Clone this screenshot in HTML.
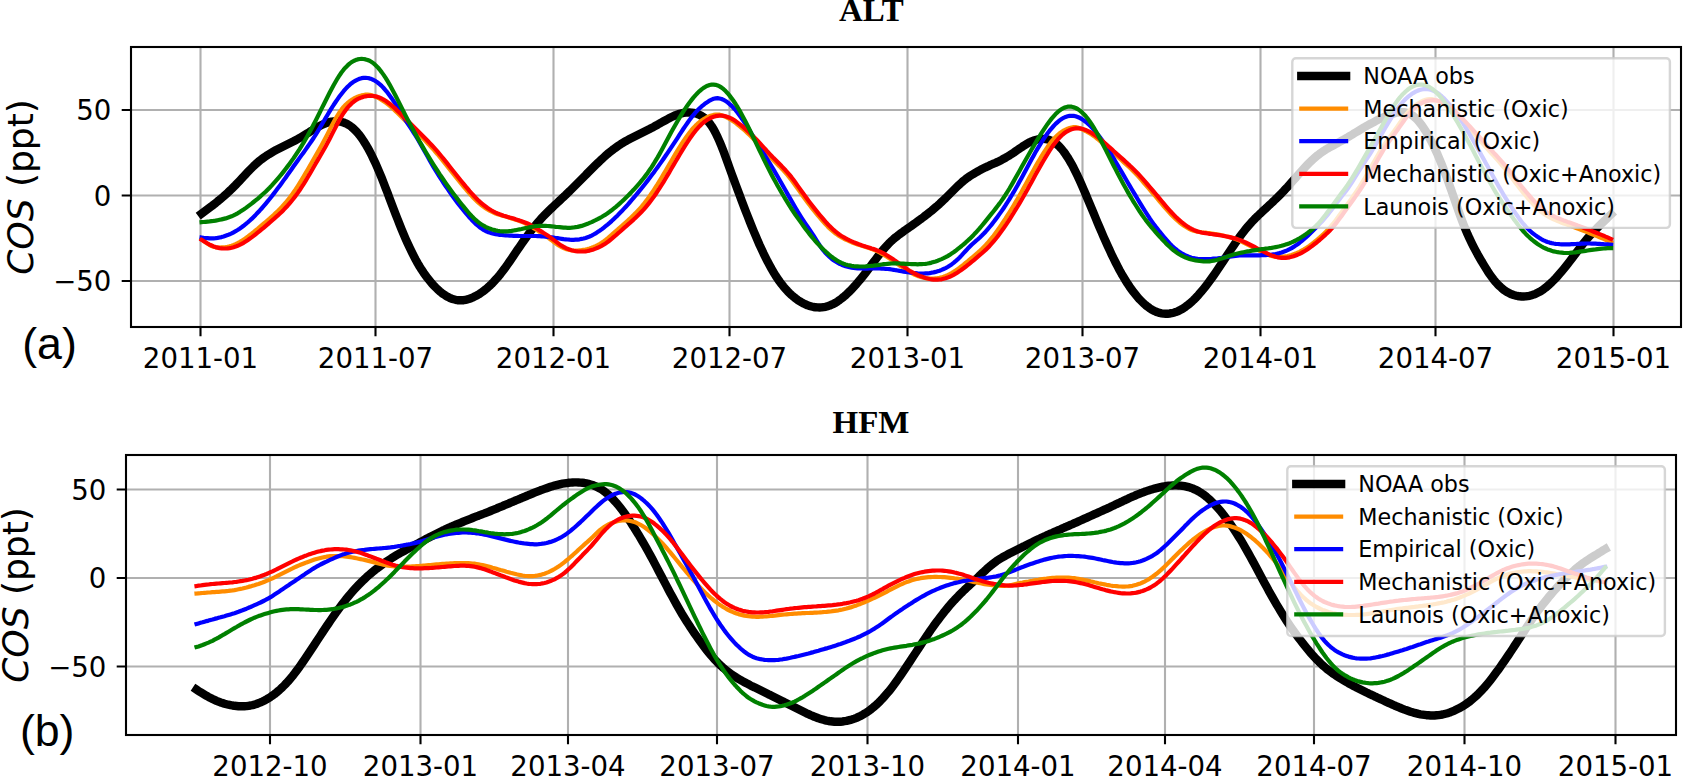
<!DOCTYPE html>
<html lang="en"><head><meta charset="utf-8"><title>COS seasonal cycle at ALT and HFM</title>
<style>
html,body{margin:0;padding:0;background:#fff;}
body{width:1683px;height:776px;overflow:hidden;}
svg{display:block;}
.tk{font-family:"DejaVu Sans","Liberation Sans",sans-serif;font-size:27.6px;fill:#000;}
.lg{font-family:"DejaVu Sans","Liberation Sans",sans-serif;font-size:22.25px;fill:#000;}
.yl{font-family:"DejaVu Sans","Liberation Sans",sans-serif;font-size:36px;fill:#000;}
.it{font-style:italic;}
.tt{font-family:"Liberation Serif",serif;font-weight:bold;font-size:32px;fill:#000;}
.pl{font-family:"Liberation Sans",sans-serif;font-size:44.7px;fill:#000;}
</style></head><body>
<svg width="1683" height="776" viewBox="0 0 1683 776">
<rect width="1683" height="776" fill="#fff"/>
<clipPath id="c1"><rect x="131" y="47" width="1550" height="280"/></clipPath>
<path d="M200.5 47 V327 M375.5 47 V327 M553.5 47 V327 M729.5 47 V327 M907.5 47 V327 M1082.5 47 V327 M1260.5 47 V327 M1435.5 47 V327 M1613.5 47 V327 M131 110.0 H1681 M131 195.5 H1681 M131 281.0 H1681" stroke="#b0b0b0" stroke-width="2.10" fill="none"/>
<g clip-path="url(#c1)" fill="none" stroke-linejoin="round" stroke-linecap="square">
<path d="M201.6 213.7 L203.6 212.2 L205.6 210.7 L207.6 209.2 L209.6 207.7 L211.6 206.2 L213.6 204.6 L215.6 203.1 L217.6 201.4 L219.6 199.8 L221.6 198.1 L223.6 196.4 L225.6 194.6 L227.6 192.8 L229.6 190.9 L231.6 189.0 L233.6 187.0 L235.6 185.0 L237.6 182.9 L239.6 180.8 L241.6 178.7 L243.6 176.5 L245.6 174.3 L247.6 172.2 L249.6 170.1 L251.6 168.1 L253.6 166.1 L255.6 164.2 L257.6 162.5 L259.6 160.8 L261.6 159.2 L263.6 157.8 L265.6 156.4 L267.6 155.0 L269.6 153.8 L271.6 152.6 L273.6 151.4 L275.6 150.3 L277.6 149.3 L279.6 148.3 L281.6 147.3 L283.6 146.3 L285.6 145.3 L287.6 144.3 L289.6 143.3 L291.6 142.3 L293.6 141.3 L295.6 140.2 L297.6 139.1 L299.6 138.0 L301.6 136.8 L303.6 135.6 L305.6 134.4 L307.6 133.2 L309.6 131.9 L311.6 130.7 L313.6 129.4 L315.6 128.3 L317.6 127.1 L319.6 126.0 L321.6 125.0 L323.6 124.1 L325.6 123.3 L327.6 122.6 L329.6 122.1 L331.6 121.6 L333.6 121.4 L335.6 121.2 L337.6 121.3 L339.6 121.5 L341.6 121.9 L343.6 122.5 L345.6 123.3 L347.6 124.3 L349.6 125.5 L351.6 127.0 L353.6 128.7 L355.6 130.7 L357.6 132.9 L359.6 135.3 L361.6 138.0 L363.6 141.0 L365.6 144.2 L367.6 147.6 L369.6 151.3 L371.6 155.2 L373.6 159.3 L375.6 163.6 L377.6 168.1 L379.6 172.8 L381.6 177.7 L383.6 182.7 L385.6 187.9 L387.6 193.1 L389.6 198.4 L391.6 203.7 L393.6 208.9 L395.6 214.2 L397.6 219.3 L399.6 224.4 L401.6 229.3 L403.6 234.1 L405.6 238.8 L407.6 243.3 L409.6 247.6 L411.6 251.7 L413.6 255.7 L415.6 259.5 L417.6 263.1 L419.6 266.5 L421.6 269.7 L423.6 272.7 L425.6 275.5 L427.6 278.2 L429.6 280.7 L431.6 283.1 L433.6 285.3 L435.6 287.4 L437.6 289.4 L439.6 291.2 L441.6 292.8 L443.6 294.3 L445.6 295.6 L447.6 296.8 L449.6 297.8 L451.6 298.7 L453.6 299.3 L455.6 299.8 L457.6 300.2 L459.6 300.3 L461.6 300.3 L463.6 300.2 L465.6 299.8 L467.6 299.4 L469.6 298.7 L471.6 298.0 L473.6 297.1 L475.6 296.1 L477.6 295.0 L479.6 293.8 L481.6 292.4 L483.6 291.0 L485.6 289.4 L487.6 287.7 L489.6 285.9 L491.6 284.0 L493.6 281.9 L495.6 279.7 L497.6 277.5 L499.6 275.1 L501.6 272.5 L503.6 269.9 L505.6 267.2 L507.6 264.4 L509.6 261.5 L511.6 258.6 L513.6 255.6 L515.6 252.7 L517.6 249.7 L519.6 246.8 L521.6 243.9 L523.6 241.0 L525.6 238.2 L527.6 235.5 L529.6 232.8 L531.6 230.1 L533.6 227.6 L535.6 225.1 L537.6 222.7 L539.6 220.4 L541.6 218.2 L543.6 216.0 L545.6 214.0 L547.6 212.0 L549.6 210.0 L551.6 208.1 L553.6 206.2 L555.6 204.3 L557.6 202.5 L559.6 200.6 L561.6 198.7 L563.6 196.9 L565.6 195.0 L567.6 193.0 L569.6 191.1 L571.6 189.1 L573.6 187.1 L575.6 185.1 L577.6 183.1 L579.6 181.1 L581.6 179.1 L583.6 177.1 L585.6 175.1 L587.6 173.0 L589.6 171.0 L591.6 169.0 L593.6 167.0 L595.6 165.0 L597.6 163.1 L599.6 161.2 L601.6 159.3 L603.6 157.5 L605.6 155.7 L607.6 153.9 L609.6 152.3 L611.6 150.7 L613.6 149.1 L615.6 147.7 L617.6 146.3 L619.6 144.9 L621.6 143.6 L623.6 142.4 L625.6 141.2 L627.6 140.1 L629.6 139.0 L631.6 138.0 L633.6 137.0 L635.6 136.0 L637.6 135.0 L639.6 134.0 L641.6 133.0 L643.6 132.0 L645.6 131.0 L647.6 130.0 L649.6 129.0 L651.6 127.9 L653.6 126.9 L655.6 125.8 L657.6 124.7 L659.6 123.5 L661.6 122.4 L663.6 121.3 L665.6 120.2 L667.6 119.1 L669.6 118.0 L671.6 117.0 L673.6 116.1 L675.6 115.2 L677.6 114.5 L679.6 113.8 L681.6 113.3 L683.6 112.9 L685.6 112.6 L687.6 112.5 L689.6 112.5 L691.6 112.6 L693.6 112.9 L695.6 113.4 L697.6 114.1 L699.6 114.9 L701.6 116.0 L703.6 117.3 L705.6 119.0 L707.6 121.0 L709.6 123.3 L711.6 126.1 L713.6 129.3 L715.6 133.0 L717.6 137.1 L719.6 141.6 L721.6 146.4 L723.6 151.6 L725.6 157.0 L727.6 162.5 L729.6 168.1 L731.6 173.6 L733.6 179.0 L735.6 184.4 L737.6 189.8 L739.6 195.1 L741.6 200.4 L743.6 205.7 L745.6 210.9 L747.6 216.0 L749.6 221.1 L751.6 226.1 L753.6 231.0 L755.6 235.7 L757.6 240.4 L759.6 245.0 L761.6 249.3 L763.6 253.6 L765.6 257.6 L767.6 261.6 L769.6 265.3 L771.6 268.9 L773.6 272.3 L775.6 275.6 L777.6 278.6 L779.6 281.5 L781.6 284.2 L783.6 286.7 L785.6 289.0 L787.6 291.2 L789.6 293.2 L791.6 295.1 L793.6 296.8 L795.6 298.4 L797.6 299.9 L799.6 301.2 L801.6 302.4 L803.6 303.5 L805.6 304.4 L807.6 305.3 L809.6 305.9 L811.6 306.5 L813.6 307.0 L815.6 307.3 L817.6 307.4 L819.6 307.5 L821.6 307.4 L823.6 307.1 L825.6 306.8 L827.6 306.2 L829.6 305.6 L831.6 304.7 L833.6 303.8 L835.6 302.7 L837.6 301.4 L839.6 300.0 L841.6 298.5 L843.6 296.9 L845.6 295.2 L847.6 293.3 L849.6 291.4 L851.6 289.3 L853.6 287.2 L855.6 285.0 L857.6 282.6 L859.6 280.3 L861.6 277.8 L863.6 275.3 L865.6 272.8 L867.6 270.2 L869.6 267.5 L871.6 264.8 L873.6 262.1 L875.6 259.5 L877.6 256.8 L879.6 254.2 L881.6 251.7 L883.6 249.3 L885.6 247.0 L887.6 244.8 L889.6 242.7 L891.6 240.8 L893.6 239.0 L895.6 237.3 L897.6 235.8 L899.6 234.2 L901.6 232.8 L903.6 231.3 L905.6 229.9 L907.6 228.5 L909.6 227.1 L911.6 225.7 L913.6 224.3 L915.6 222.9 L917.6 221.4 L919.6 219.9 L921.6 218.5 L923.6 217.0 L925.6 215.4 L927.6 213.9 L929.6 212.3 L931.6 210.7 L933.6 209.0 L935.6 207.3 L937.6 205.6 L939.6 203.8 L941.6 201.9 L943.6 200.0 L945.6 198.1 L947.6 196.1 L949.6 194.1 L951.6 192.1 L953.6 190.1 L955.6 188.1 L957.6 186.1 L959.6 184.3 L961.6 182.5 L963.6 180.8 L965.6 179.2 L967.6 177.7 L969.6 176.3 L971.6 175.0 L973.6 173.8 L975.6 172.6 L977.6 171.5 L979.6 170.4 L981.6 169.3 L983.6 168.3 L985.6 167.3 L987.6 166.4 L989.6 165.4 L991.6 164.5 L993.6 163.6 L995.6 162.8 L997.6 161.9 L999.6 160.9 L1001.6 159.9 L1003.6 158.8 L1005.6 157.7 L1007.6 156.5 L1009.6 155.3 L1011.6 154.0 L1013.6 152.7 L1015.6 151.3 L1017.6 149.9 L1019.6 148.5 L1021.6 147.2 L1023.6 145.8 L1025.6 144.6 L1027.6 143.4 L1029.6 142.3 L1031.6 141.4 L1033.6 140.6 L1035.6 140.0 L1037.6 139.4 L1039.6 139.1 L1041.6 138.9 L1043.6 138.9 L1045.6 139.1 L1047.6 139.4 L1049.6 140.0 L1051.6 140.9 L1053.6 141.9 L1055.6 143.3 L1057.6 144.9 L1059.6 146.8 L1061.6 149.0 L1063.6 151.5 L1065.6 154.3 L1067.6 157.3 L1069.6 160.6 L1071.6 164.1 L1073.6 167.8 L1075.6 171.8 L1077.6 175.9 L1079.6 180.3 L1081.6 184.7 L1083.6 189.3 L1085.6 194.0 L1087.6 198.8 L1089.6 203.6 L1091.6 208.4 L1093.6 213.2 L1095.6 218.0 L1097.6 222.8 L1099.6 227.5 L1101.6 232.2 L1103.6 236.8 L1105.6 241.3 L1107.6 245.8 L1109.6 250.1 L1111.6 254.4 L1113.6 258.5 L1115.6 262.5 L1117.6 266.4 L1119.6 270.2 L1121.6 273.8 L1123.6 277.2 L1125.6 280.5 L1127.6 283.7 L1129.6 286.7 L1131.6 289.5 L1133.6 292.2 L1135.6 294.7 L1137.6 297.1 L1139.6 299.4 L1141.6 301.4 L1143.6 303.4 L1145.6 305.1 L1147.6 306.7 L1149.6 308.2 L1151.6 309.5 L1153.6 310.6 L1155.6 311.5 L1157.6 312.3 L1159.6 312.9 L1161.6 313.3 L1163.6 313.6 L1165.6 313.7 L1167.6 313.7 L1169.6 313.5 L1171.6 313.2 L1173.6 312.7 L1175.6 312.1 L1177.6 311.3 L1179.6 310.4 L1181.6 309.3 L1183.6 308.1 L1185.6 306.7 L1187.6 305.2 L1189.6 303.6 L1191.6 301.8 L1193.6 300.0 L1195.6 298.0 L1197.6 295.9 L1199.6 293.6 L1201.6 291.3 L1203.6 288.9 L1205.6 286.4 L1207.6 283.8 L1209.6 281.1 L1211.6 278.3 L1213.6 275.5 L1215.6 272.6 L1217.6 269.7 L1219.6 266.7 L1221.6 263.7 L1223.6 260.6 L1225.6 257.6 L1227.6 254.5 L1229.6 251.5 L1231.6 248.5 L1233.6 245.6 L1235.6 242.7 L1237.6 239.8 L1239.6 237.0 L1241.6 234.3 L1243.6 231.7 L1245.6 229.2 L1247.6 226.8 L1249.6 224.5 L1251.6 222.2 L1253.6 220.1 L1255.6 218.0 L1257.6 216.1 L1259.6 214.1 L1261.6 212.3 L1263.6 210.4 L1265.6 208.6 L1267.6 206.7 L1269.6 204.8 L1271.6 203.0 L1273.6 201.1 L1275.6 199.1 L1277.6 197.2 L1279.6 195.2 L1281.6 193.2 L1283.6 191.1 L1285.6 188.9 L1287.6 186.8 L1289.6 184.6 L1291.6 182.3 L1293.6 180.0 L1295.6 177.8 L1297.6 175.5 L1299.6 173.2 L1301.6 171.0 L1303.6 168.8 L1305.6 166.6 L1307.6 164.5 L1309.6 162.5 L1311.6 160.6 L1313.6 158.7 L1315.6 157.0 L1317.6 155.3 L1319.6 153.8 L1321.6 152.4 L1323.6 151.0 L1325.6 149.7 L1327.6 148.5 L1329.6 147.4 L1331.6 146.3 L1333.6 145.2 L1335.6 144.1 L1337.6 143.0 L1339.6 141.9 L1341.6 140.8 L1343.6 139.7 L1345.6 138.5 L1347.6 137.4 L1349.6 136.2 L1351.6 135.0 L1353.6 133.7 L1355.6 132.5 L1357.6 131.3 L1359.6 130.1 L1361.6 128.9 L1363.6 127.7 L1365.6 126.5 L1367.6 125.4 L1369.6 124.3 L1371.6 123.2 L1373.6 122.2 L1375.6 121.1 L1377.6 120.1 L1379.6 119.1 L1381.6 118.2 L1383.6 117.3 L1385.6 116.4 L1387.6 115.6 L1389.6 114.8 L1391.6 114.1 L1393.6 113.5 L1395.6 112.9 L1397.6 112.5 L1399.6 112.3 L1401.6 112.1 L1403.6 112.2 L1405.6 112.4 L1407.6 113.0 L1409.6 113.8 L1411.6 114.9 L1413.6 116.3 L1415.6 118.1 L1417.6 120.1 L1419.6 122.4 L1421.6 125.1 L1423.6 127.9 L1425.6 131.1 L1427.6 134.4 L1429.6 138.0 L1431.6 141.9 L1433.6 145.9 L1435.6 150.2 L1437.6 154.6 L1439.6 159.3 L1441.6 164.2 L1443.6 169.3 L1445.6 174.5 L1447.6 179.9 L1449.6 185.5 L1451.6 191.1 L1453.6 196.8 L1455.6 202.6 L1457.6 208.3 L1459.6 214.0 L1461.6 219.5 L1463.6 224.7 L1465.6 229.6 L1467.6 234.3 L1469.6 238.7 L1471.6 242.8 L1473.6 246.8 L1475.6 250.6 L1477.6 254.3 L1479.6 257.8 L1481.6 261.3 L1483.6 264.6 L1485.6 267.9 L1487.6 271.1 L1489.6 274.1 L1491.6 276.9 L1493.6 279.6 L1495.6 282.0 L1497.6 284.2 L1499.6 286.2 L1501.6 288.0 L1503.6 289.7 L1505.6 291.1 L1507.6 292.3 L1509.6 293.4 L1511.6 294.3 L1513.6 295.0 L1515.6 295.6 L1517.6 296.0 L1519.6 296.3 L1521.6 296.5 L1523.6 296.5 L1525.6 296.4 L1527.6 296.1 L1529.6 295.8 L1531.6 295.2 L1533.6 294.6 L1535.6 293.8 L1537.6 292.8 L1539.6 291.8 L1541.6 290.6 L1543.6 289.2 L1545.6 287.7 L1547.6 286.0 L1549.6 284.3 L1551.6 282.4 L1553.6 280.4 L1555.6 278.3 L1557.6 276.1 L1559.6 273.8 L1561.6 271.5 L1563.6 269.1 L1565.6 266.6 L1567.6 264.1 L1569.6 261.5 L1571.6 258.9 L1573.6 256.2 L1575.6 253.6 L1577.6 250.9 L1579.6 248.2 L1581.6 245.6 L1583.6 243.1 L1585.6 240.7 L1587.6 238.3 L1589.6 236.0 L1591.6 233.8 L1593.6 231.7 L1595.6 229.6 L1597.6 227.5 L1599.6 225.5 L1601.6 223.5 L1603.6 221.6 L1605.6 219.7 L1607.6 217.7 L1609.6 215.8 L1611.1 214.4" stroke="#000000" stroke-width="8.40"/>
<path d="M201.6 239.3 L203.6 240.9 L205.6 242.4 L207.6 243.7 L209.6 245.0 L211.6 246.0 L213.6 246.8 L215.6 247.3 L217.6 247.5 L219.6 247.5 L221.6 247.4 L223.6 247.3 L225.6 247.1 L227.6 246.8 L229.6 246.3 L231.6 245.7 L233.6 245.0 L235.6 244.2 L237.6 243.2 L239.6 242.1 L241.6 240.9 L243.6 239.6 L245.6 238.2 L247.6 236.8 L249.6 235.2 L251.6 233.7 L253.6 232.1 L255.6 230.4 L257.6 228.8 L259.6 227.1 L261.6 225.4 L263.6 223.7 L265.6 222.0 L267.6 220.3 L269.6 218.6 L271.6 216.8 L273.6 215.0 L275.6 213.1 L277.6 211.2 L279.6 209.2 L281.6 207.1 L283.6 204.9 L285.6 202.7 L287.6 200.2 L289.6 197.7 L291.6 195.1 L293.6 192.3 L295.6 189.4 L297.6 186.3 L299.6 183.1 L301.6 179.9 L303.6 176.5 L305.6 173.1 L307.6 169.7 L309.6 166.2 L311.6 162.8 L313.6 159.4 L315.6 155.9 L317.6 152.4 L319.6 148.9 L321.6 145.3 L323.6 141.6 L325.6 137.8 L327.6 133.9 L329.6 129.9 L331.6 126.0 L333.6 122.3 L335.6 118.6 L337.6 115.3 L339.6 112.2 L341.6 109.4 L343.6 106.9 L345.6 104.8 L347.6 102.9 L349.6 101.3 L351.6 99.9 L353.6 98.7 L355.6 97.6 L357.6 96.7 L359.6 96.0 L361.6 95.4 L363.6 95.0 L365.6 94.7 L367.6 94.6 L369.6 94.8 L371.6 95.3 L373.6 96.0 L375.6 96.8 L377.6 97.7 L379.6 98.7 L381.6 99.9 L383.6 101.2 L385.6 102.6 L387.6 104.1 L389.6 105.7 L391.6 107.5 L393.6 109.3 L395.6 111.2 L397.6 113.1 L399.6 115.1 L401.6 117.1 L403.6 119.1 L405.6 121.1 L407.6 123.1 L409.6 125.2 L411.6 127.2 L413.6 129.2 L415.6 131.2 L417.6 133.1 L419.6 135.1 L421.6 137.1 L423.6 139.1 L425.6 141.1 L427.6 143.2 L429.6 145.3 L431.6 147.5 L433.6 149.7 L435.6 152.0 L437.6 154.3 L439.6 156.8 L441.6 159.2 L443.6 161.7 L445.6 164.2 L447.6 166.7 L449.6 169.3 L451.6 171.8 L453.6 174.3 L455.6 176.8 L457.6 179.3 L459.6 181.8 L461.6 184.2 L463.6 186.6 L465.6 189.0 L467.6 191.4 L469.6 193.6 L471.6 195.8 L473.6 198.0 L475.6 200.0 L477.6 201.9 L479.6 203.7 L481.6 205.3 L483.6 206.8 L485.6 208.2 L487.6 209.5 L489.6 210.7 L491.6 211.7 L493.6 212.6 L495.6 213.5 L497.6 214.2 L499.6 214.8 L501.6 215.4 L503.6 216.0 L505.6 216.5 L507.6 217.1 L509.6 217.7 L511.6 218.4 L513.6 219.0 L515.6 219.7 L517.6 220.3 L519.6 221.0 L521.6 221.8 L523.6 222.6 L525.6 223.5 L527.6 224.5 L529.6 225.7 L531.6 226.8 L533.6 228.1 L535.6 229.3 L537.6 230.6 L539.6 231.9 L541.6 233.1 L543.6 234.4 L545.6 235.8 L547.6 237.2 L549.6 238.7 L551.6 240.2 L553.6 241.8 L555.6 243.3 L557.6 244.7 L559.6 246.0 L561.6 247.1 L563.6 248.0 L565.6 248.9 L567.6 249.5 L569.6 250.0 L571.6 250.3 L573.6 250.5 L575.6 250.5 L577.6 250.5 L579.6 250.3 L581.6 250.2 L583.6 249.9 L585.6 249.6 L587.6 249.1 L589.6 248.5 L591.6 247.8 L593.6 247.0 L595.6 246.1 L597.6 245.1 L599.6 244.0 L601.6 242.8 L603.6 241.4 L605.6 239.9 L607.6 238.3 L609.6 236.6 L611.6 234.9 L613.6 233.1 L615.6 231.3 L617.6 229.6 L619.6 227.8 L621.6 226.1 L623.6 224.3 L625.6 222.5 L627.6 220.7 L629.6 218.9 L631.6 217.0 L633.6 215.1 L635.6 213.1 L637.6 211.0 L639.6 208.8 L641.6 206.6 L643.6 204.2 L645.6 201.6 L647.6 199.0 L649.6 196.2 L651.6 193.3 L653.6 190.3 L655.6 187.2 L657.6 184.1 L659.6 180.8 L661.6 177.5 L663.6 174.1 L665.6 170.7 L667.6 167.3 L669.6 163.9 L671.6 160.5 L673.6 157.0 L675.6 153.7 L677.6 150.4 L679.6 147.1 L681.6 144.0 L683.6 140.9 L685.6 138.0 L687.6 135.2 L689.6 132.5 L691.6 130.0 L693.6 127.7 L695.6 125.6 L697.6 123.7 L699.6 122.0 L701.6 120.5 L703.6 119.1 L705.6 118.0 L707.6 117.0 L709.6 116.1 L711.6 115.5 L713.6 114.9 L715.6 114.6 L717.6 114.5 L719.6 114.7 L721.6 115.3 L723.6 116.0 L725.6 116.8 L727.6 117.8 L729.6 118.9 L731.6 120.2 L733.6 121.5 L735.6 122.9 L737.6 124.5 L739.6 126.1 L741.6 127.8 L743.6 129.5 L745.6 131.3 L747.6 133.2 L749.6 135.1 L751.6 137.0 L753.6 139.0 L755.6 141.1 L757.6 143.2 L759.6 145.4 L761.6 147.6 L763.6 149.8 L765.6 152.1 L767.6 154.2 L769.6 156.3 L771.6 158.4 L773.6 160.4 L775.6 162.4 L777.6 164.4 L779.6 166.4 L781.6 168.5 L783.6 170.6 L785.6 172.9 L787.6 175.2 L789.6 177.7 L791.6 180.3 L793.6 183.0 L795.6 185.8 L797.6 188.6 L799.6 191.4 L801.6 194.2 L803.6 197.0 L805.6 199.7 L807.6 202.4 L809.6 205.1 L811.6 207.7 L813.6 210.2 L815.6 212.7 L817.6 215.1 L819.6 217.5 L821.6 219.8 L823.6 222.1 L825.6 224.3 L827.6 226.4 L829.6 228.4 L831.6 230.2 L833.6 231.9 L835.6 233.5 L837.6 234.9 L839.6 236.2 L841.6 237.4 L843.6 238.5 L845.6 239.5 L847.6 240.4 L849.6 241.3 L851.6 242.2 L853.6 243.0 L855.6 243.7 L857.6 244.4 L859.6 245.1 L861.6 245.7 L863.6 246.3 L865.6 246.9 L867.6 247.6 L869.6 248.2 L871.6 248.9 L873.6 249.7 L875.6 250.5 L877.6 251.4 L879.6 252.5 L881.6 253.6 L883.6 254.7 L885.6 256.0 L887.6 257.2 L889.6 258.5 L891.6 259.9 L893.6 261.2 L895.6 262.6 L897.6 264.1 L899.6 265.5 L901.6 266.9 L903.6 268.3 L905.6 269.7 L907.6 270.9 L909.6 272.1 L911.6 273.2 L913.6 274.2 L915.6 275.0 L917.6 275.9 L919.6 276.6 L921.6 277.2 L923.6 277.7 L925.6 278.1 L927.6 278.5 L929.6 278.6 L931.6 278.7 L933.6 278.6 L935.6 278.4 L937.6 278.2 L939.6 277.9 L941.6 277.4 L943.6 276.8 L945.6 276.0 L947.6 275.1 L949.6 274.1 L951.6 273.0 L953.6 271.8 L955.6 270.5 L957.6 269.1 L959.6 267.7 L961.6 266.1 L963.6 264.6 L965.6 262.9 L967.6 261.3 L969.6 259.6 L971.6 258.0 L973.6 256.3 L975.6 254.6 L977.6 252.9 L979.6 251.1 L981.6 249.2 L983.6 247.2 L985.6 245.2 L987.6 243.0 L989.6 240.6 L991.6 238.2 L993.6 235.7 L995.6 233.0 L997.6 230.3 L999.6 227.4 L1001.6 224.5 L1003.6 221.4 L1005.6 218.4 L1007.6 215.2 L1009.6 212.0 L1011.6 208.8 L1013.6 205.5 L1015.6 202.1 L1017.6 198.7 L1019.6 195.2 L1021.6 191.7 L1023.6 188.1 L1025.6 184.4 L1027.6 180.8 L1029.6 177.1 L1031.6 173.5 L1033.6 169.9 L1035.6 166.4 L1037.6 162.9 L1039.6 159.5 L1041.6 156.1 L1043.6 152.9 L1045.6 149.8 L1047.6 146.8 L1049.6 144.0 L1051.6 141.4 L1053.6 139.0 L1055.6 136.9 L1057.6 135.0 L1059.6 133.3 L1061.6 131.9 L1063.6 130.6 L1065.6 129.6 L1067.6 128.7 L1069.6 128.0 L1071.6 127.5 L1073.6 127.2 L1075.6 127.1 L1077.6 127.6 L1079.6 128.3 L1081.6 129.1 L1083.6 130.0 L1085.6 131.0 L1087.6 132.1 L1089.6 133.3 L1091.6 134.6 L1093.6 135.9 L1095.6 137.4 L1097.6 139.0 L1099.6 140.7 L1101.6 142.4 L1103.6 144.1 L1105.6 145.9 L1107.6 147.7 L1109.6 149.5 L1111.6 151.3 L1113.6 153.1 L1115.6 154.9 L1117.6 156.7 L1119.6 158.5 L1121.6 160.3 L1123.6 162.1 L1125.6 163.9 L1127.6 165.7 L1129.6 167.6 L1131.6 169.5 L1133.6 171.5 L1135.6 173.5 L1137.6 175.7 L1139.6 177.9 L1141.6 180.2 L1143.6 182.5 L1145.6 184.8 L1147.6 187.1 L1149.6 189.5 L1151.6 191.8 L1153.6 194.1 L1155.6 196.5 L1157.6 198.9 L1159.6 201.3 L1161.6 203.7 L1163.6 206.1 L1165.6 208.4 L1167.6 210.6 L1169.6 212.8 L1171.6 215.0 L1173.6 217.0 L1175.6 218.9 L1177.6 220.7 L1179.6 222.5 L1181.6 224.0 L1183.6 225.5 L1185.6 226.8 L1187.6 228.0 L1189.6 229.1 L1191.6 230.0 L1193.6 230.7 L1195.6 231.2 L1197.6 231.7 L1199.6 232.0 L1201.6 232.3 L1203.6 232.5 L1205.6 232.7 L1207.6 233.0 L1209.6 233.2 L1211.6 233.5 L1213.6 233.8 L1215.6 234.2 L1217.6 234.5 L1219.6 234.9 L1221.6 235.3 L1223.6 235.7 L1225.6 236.2 L1227.6 236.6 L1229.6 237.1 L1231.6 237.7 L1233.6 238.3 L1235.6 239.0 L1237.6 239.8 L1239.6 240.7 L1241.6 241.6 L1243.6 242.6 L1245.6 243.6 L1247.6 244.6 L1249.6 245.6 L1251.6 246.6 L1253.6 247.7 L1255.6 248.7 L1257.6 249.7 L1259.6 250.8 L1261.6 251.8 L1263.6 252.8 L1265.6 253.8 L1267.6 254.6 L1269.6 255.4 L1271.6 256.0 L1273.6 256.5 L1275.6 256.8 L1277.6 257.0 L1279.6 256.9 L1281.6 256.7 L1283.6 256.6 L1285.6 256.3 L1287.6 256.0 L1289.6 255.5 L1291.6 255.0 L1293.6 254.3 L1295.6 253.6 L1297.6 252.7 L1299.6 251.8 L1301.6 250.7 L1303.6 249.6 L1305.6 248.4 L1307.6 247.1 L1309.6 245.7 L1311.6 244.2 L1313.6 242.6 L1315.6 241.0 L1317.6 239.3 L1319.6 237.6 L1321.6 235.8 L1323.6 233.9 L1325.6 232.0 L1327.6 230.0 L1329.6 227.8 L1331.6 225.5 L1333.6 223.1 L1335.6 220.5 L1337.6 217.8 L1339.6 215.0 L1341.6 212.2 L1343.6 209.5 L1345.6 206.7 L1347.6 203.9 L1349.6 201.2 L1351.6 198.4 L1353.6 195.5 L1355.6 192.6 L1357.6 189.6 L1359.6 186.6 L1361.6 183.4 L1363.6 180.1 L1365.6 176.7 L1367.6 173.3 L1369.6 169.7 L1371.6 166.1 L1373.6 162.5 L1375.6 159.0 L1377.6 155.5 L1379.6 152.0 L1381.6 148.8 L1383.6 145.6 L1385.6 142.7 L1387.6 139.9 L1389.6 137.1 L1391.6 134.4 L1393.6 131.7 L1395.6 128.9 L1397.6 126.1 L1399.6 123.2 L1401.6 120.4 L1403.6 117.6 L1405.6 115.0 L1407.6 112.6 L1409.6 110.4 L1411.6 108.4 L1413.6 106.6 L1415.6 105.1 L1417.6 103.7 L1419.6 102.5 L1421.6 101.4 L1423.6 100.5 L1425.6 99.8 L1427.6 99.3 L1429.6 99.0 L1431.6 99.1 L1433.6 99.6 L1435.6 100.3 L1437.6 101.1 L1439.6 102.1 L1441.6 103.2 L1443.6 104.4 L1445.6 105.8 L1447.6 107.3 L1449.6 108.9 L1451.6 110.6 L1453.6 112.4 L1455.6 114.3 L1457.6 116.2 L1459.6 118.2 L1461.6 120.2 L1463.6 122.3 L1465.6 124.4 L1467.6 126.5 L1469.6 128.7 L1471.6 130.9 L1473.6 133.2 L1475.6 135.5 L1477.6 137.7 L1479.6 140.0 L1481.6 142.3 L1483.6 144.5 L1485.6 146.8 L1487.6 149.0 L1489.6 151.3 L1491.6 153.5 L1493.6 155.7 L1495.6 157.9 L1497.6 160.1 L1499.6 162.4 L1501.6 164.8 L1503.6 167.2 L1505.6 169.7 L1507.6 172.3 L1509.6 174.9 L1511.6 177.6 L1513.6 180.2 L1515.6 182.9 L1517.6 185.5 L1519.6 188.1 L1521.6 190.6 L1523.6 193.1 L1525.6 195.5 L1527.6 197.9 L1529.6 200.2 L1531.6 202.4 L1533.6 204.6 L1535.6 206.7 L1537.6 208.6 L1539.6 210.4 L1541.6 212.1 L1543.6 213.6 L1545.6 215.0 L1547.6 216.2 L1549.6 217.3 L1551.6 218.4 L1553.6 219.3 L1555.6 220.2 L1557.6 221.1 L1559.6 221.9 L1561.6 222.7 L1563.6 223.4 L1565.6 224.1 L1567.6 224.8 L1569.6 225.5 L1571.6 226.2 L1573.6 227.0 L1575.6 227.7 L1577.6 228.5 L1579.6 229.2 L1581.6 230.0 L1583.6 230.8 L1585.6 231.6 L1587.6 232.4 L1589.6 233.2 L1591.6 234.0 L1593.6 234.8 L1595.6 235.6 L1597.6 236.4 L1599.6 237.3 L1601.6 238.1 L1603.6 238.9 L1605.6 239.8 L1607.6 240.7 L1609.6 241.6 L1611.1 242.3" stroke="#ff8c00" stroke-width="4.20"/>
<path d="M201.6 237.5 L203.6 237.8 L205.6 238.0 L207.6 238.2 L209.6 238.4 L211.6 238.4 L213.6 238.4 L215.6 238.2 L217.6 237.9 L219.6 237.5 L221.6 237.1 L223.6 236.5 L225.6 235.8 L227.6 235.1 L229.6 234.3 L231.6 233.4 L233.6 232.3 L235.6 231.2 L237.6 230.0 L239.6 228.7 L241.6 227.3 L243.6 225.8 L245.6 224.2 L247.6 222.5 L249.6 220.7 L251.6 218.9 L253.6 216.9 L255.6 214.9 L257.6 212.8 L259.6 210.7 L261.6 208.5 L263.6 206.2 L265.6 203.8 L267.6 201.4 L269.6 199.0 L271.6 196.5 L273.6 193.9 L275.6 191.3 L277.6 188.6 L279.6 185.9 L281.6 183.2 L283.6 180.4 L285.6 177.7 L287.6 174.8 L289.6 172.0 L291.6 169.2 L293.6 166.3 L295.6 163.5 L297.6 160.7 L299.6 157.9 L301.6 155.1 L303.6 152.4 L305.6 149.6 L307.6 146.8 L309.6 143.9 L311.6 141.0 L313.6 138.0 L315.6 134.8 L317.6 131.6 L319.6 128.2 L321.6 124.9 L323.6 121.5 L325.6 118.1 L327.6 114.7 L329.6 111.4 L331.6 108.2 L333.6 105.0 L335.6 102.0 L337.6 99.1 L339.6 96.3 L341.6 93.7 L343.6 91.2 L345.6 88.9 L347.6 86.8 L349.6 84.9 L351.6 83.2 L353.6 81.8 L355.6 80.6 L357.6 79.6 L359.6 78.8 L361.6 78.2 L363.6 77.9 L365.6 77.8 L367.6 78.0 L369.6 78.4 L371.6 79.1 L373.6 80.0 L375.6 81.1 L377.6 82.5 L379.6 84.1 L381.6 85.9 L383.6 88.0 L385.6 90.3 L387.6 92.7 L389.6 95.4 L391.6 98.2 L393.6 101.2 L395.6 104.2 L397.6 107.4 L399.6 110.6 L401.6 113.8 L403.6 117.0 L405.6 120.2 L407.6 123.3 L409.6 126.3 L411.6 129.4 L413.6 132.5 L415.6 135.7 L417.6 139.0 L419.6 142.4 L421.6 145.9 L423.6 149.5 L425.6 153.0 L427.6 156.6 L429.6 160.1 L431.6 163.6 L433.6 167.1 L435.6 170.4 L437.6 173.6 L439.6 176.8 L441.6 179.9 L443.6 183.0 L445.6 186.0 L447.6 188.9 L449.6 191.9 L451.6 194.7 L453.6 197.5 L455.6 200.2 L457.6 202.9 L459.6 205.5 L461.6 208.0 L463.6 210.4 L465.6 212.8 L467.6 215.2 L469.6 217.5 L471.6 219.7 L473.6 221.8 L475.6 223.8 L477.6 225.5 L479.6 227.2 L481.6 228.6 L483.6 229.9 L485.6 231.0 L487.6 231.9 L489.6 232.6 L491.6 233.2 L493.6 233.7 L495.6 234.1 L497.6 234.5 L499.6 234.8 L501.6 235.0 L503.6 235.2 L505.6 235.3 L507.6 235.5 L509.6 235.6 L511.6 235.7 L513.6 235.8 L515.6 235.9 L517.6 235.9 L519.6 236.0 L521.6 236.0 L523.6 236.0 L525.6 236.0 L527.6 236.0 L529.6 236.0 L531.6 236.0 L533.6 236.0 L535.6 236.0 L537.6 236.1 L539.6 236.2 L541.6 236.4 L543.6 236.5 L545.6 236.7 L547.6 236.9 L549.6 237.2 L551.6 237.4 L553.6 237.7 L555.6 238.0 L557.6 238.2 L559.6 238.5 L561.6 238.8 L563.6 239.1 L565.6 239.3 L567.6 239.5 L569.6 239.7 L571.6 239.8 L573.6 239.8 L575.6 239.7 L577.6 239.6 L579.6 239.3 L581.6 238.9 L583.6 238.5 L585.6 237.9 L587.6 237.2 L589.6 236.5 L591.6 235.6 L593.6 234.5 L595.6 233.4 L597.6 232.1 L599.6 230.8 L601.6 229.4 L603.6 227.8 L605.6 226.2 L607.6 224.6 L609.6 222.9 L611.6 221.1 L613.6 219.2 L615.6 217.3 L617.6 215.4 L619.6 213.3 L621.6 211.3 L623.6 209.1 L625.6 207.0 L627.6 204.8 L629.6 202.5 L631.6 200.2 L633.6 197.9 L635.6 195.5 L637.6 193.1 L639.6 190.7 L641.6 188.2 L643.6 185.7 L645.6 183.2 L647.6 180.6 L649.6 178.0 L651.6 175.3 L653.6 172.7 L655.6 169.9 L657.6 167.2 L659.6 164.4 L661.6 161.6 L663.6 158.7 L665.6 155.8 L667.6 152.9 L669.6 149.9 L671.6 146.9 L673.6 143.9 L675.6 140.9 L677.6 137.8 L679.6 134.7 L681.6 131.6 L683.6 128.5 L685.6 125.6 L687.6 122.7 L689.6 119.9 L691.6 117.2 L693.6 114.8 L695.6 112.4 L697.6 110.3 L699.6 108.3 L701.6 106.4 L703.6 104.8 L705.6 103.2 L707.6 101.9 L709.6 100.6 L711.6 99.6 L713.6 98.8 L715.6 98.4 L717.6 98.2 L719.6 98.5 L721.6 99.0 L723.6 99.9 L725.6 101.0 L727.6 102.4 L729.6 104.1 L731.6 105.9 L733.6 108.0 L735.6 110.2 L737.6 112.7 L739.6 115.4 L741.6 118.2 L743.6 121.1 L745.6 124.2 L747.6 127.3 L749.6 130.6 L751.6 133.8 L753.6 137.1 L755.6 140.4 L757.6 143.7 L759.6 147.0 L761.6 150.2 L763.6 153.4 L765.6 156.7 L767.6 159.9 L769.6 163.2 L771.6 166.4 L773.6 169.7 L775.6 173.1 L777.6 176.5 L779.6 180.0 L781.6 183.5 L783.6 187.0 L785.6 190.6 L787.6 194.1 L789.6 197.6 L791.6 201.1 L793.6 204.6 L795.6 208.0 L797.6 211.4 L799.6 214.6 L801.6 217.8 L803.6 220.9 L805.6 223.9 L807.6 226.8 L809.6 229.7 L811.6 232.6 L813.6 235.6 L815.6 238.8 L817.6 242.0 L819.6 245.2 L821.6 248.1 L823.6 250.7 L825.6 253.0 L827.6 255.1 L829.6 257.0 L831.6 258.7 L833.6 260.2 L835.6 261.5 L837.6 262.7 L839.6 263.8 L841.6 264.7 L843.6 265.5 L845.6 266.2 L847.6 266.7 L849.6 267.2 L851.6 267.6 L853.6 267.9 L855.6 268.1 L857.6 268.3 L859.6 268.5 L861.6 268.5 L863.6 268.6 L865.6 268.6 L867.6 268.6 L869.6 268.5 L871.6 268.5 L873.6 268.5 L875.6 268.5 L877.6 268.5 L879.6 268.5 L881.6 268.6 L883.6 268.7 L885.6 268.8 L887.6 269.0 L889.6 269.2 L891.6 269.5 L893.6 269.8 L895.6 270.2 L897.6 270.5 L899.6 270.9 L901.6 271.2 L903.6 271.6 L905.6 271.9 L907.6 272.2 L909.6 272.5 L911.6 272.7 L913.6 273.0 L915.6 273.2 L917.6 273.4 L919.6 273.5 L921.6 273.5 L923.6 273.5 L925.6 273.4 L927.6 273.3 L929.6 273.1 L931.6 272.7 L933.6 272.4 L935.6 271.9 L937.6 271.3 L939.6 270.7 L941.6 269.9 L943.6 269.0 L945.6 268.1 L947.6 267.0 L949.6 265.7 L951.6 264.4 L953.6 262.9 L955.6 261.2 L957.6 259.4 L959.6 257.5 L961.6 255.4 L963.6 253.2 L965.6 251.0 L967.6 248.8 L969.6 246.8 L971.6 244.8 L973.6 243.0 L975.6 241.2 L977.6 239.5 L979.6 237.7 L981.6 235.8 L983.6 233.8 L985.6 231.7 L987.6 229.4 L989.6 227.0 L991.6 224.6 L993.6 222.0 L995.6 219.4 L997.6 216.7 L999.6 213.9 L1001.6 211.1 L1003.6 208.2 L1005.6 205.2 L1007.6 202.0 L1009.6 198.8 L1011.6 195.5 L1013.6 192.2 L1015.6 188.7 L1017.6 185.2 L1019.6 181.5 L1021.6 177.9 L1023.6 174.2 L1025.6 170.4 L1027.6 166.7 L1029.6 163.0 L1031.6 159.3 L1033.6 155.7 L1035.6 152.1 L1037.6 148.6 L1039.6 145.3 L1041.6 142.1 L1043.6 139.0 L1045.6 136.1 L1047.6 133.3 L1049.6 130.7 L1051.6 128.3 L1053.6 126.0 L1055.6 123.9 L1057.6 122.1 L1059.6 120.4 L1061.6 119.0 L1063.6 117.8 L1065.6 116.9 L1067.6 116.3 L1069.6 115.9 L1071.6 115.8 L1073.6 115.9 L1075.6 116.3 L1077.6 117.0 L1079.6 117.8 L1081.6 118.9 L1083.6 120.2 L1085.6 121.7 L1087.6 123.4 L1089.6 125.3 L1091.6 127.3 L1093.6 129.4 L1095.6 131.7 L1097.6 134.2 L1099.6 136.8 L1101.6 139.5 L1103.6 142.4 L1105.6 145.4 L1107.6 148.5 L1109.6 151.7 L1111.6 155.0 L1113.6 158.3 L1115.6 161.7 L1117.6 165.1 L1119.6 168.5 L1121.6 171.9 L1123.6 175.4 L1125.6 178.8 L1127.6 182.2 L1129.6 185.6 L1131.6 189.0 L1133.6 192.4 L1135.6 195.7 L1137.6 199.0 L1139.6 202.3 L1141.6 205.6 L1143.6 208.8 L1145.6 212.0 L1147.6 215.1 L1149.6 218.2 L1151.6 221.1 L1153.6 223.9 L1155.6 226.6 L1157.6 229.1 L1159.6 231.7 L1161.6 234.1 L1163.6 236.5 L1165.6 238.9 L1167.6 241.2 L1169.6 243.4 L1171.6 245.5 L1173.6 247.3 L1175.6 249.0 L1177.6 250.6 L1179.6 252.0 L1181.6 253.3 L1183.6 254.4 L1185.6 255.5 L1187.6 256.3 L1189.6 257.1 L1191.6 257.7 L1193.6 258.2 L1195.6 258.5 L1197.6 258.8 L1199.6 259.0 L1201.6 259.1 L1203.6 259.2 L1205.6 259.2 L1207.6 259.1 L1209.6 259.0 L1211.6 258.9 L1213.6 258.7 L1215.6 258.5 L1217.6 258.3 L1219.6 258.0 L1221.6 257.8 L1223.6 257.5 L1225.6 257.2 L1227.6 256.9 L1229.6 256.6 L1231.6 256.3 L1233.6 256.1 L1235.6 255.9 L1237.6 255.7 L1239.6 255.5 L1241.6 255.4 L1243.6 255.4 L1245.6 255.3 L1247.6 255.3 L1249.6 255.3 L1251.6 255.3 L1253.6 255.3 L1255.6 255.3 L1257.6 255.3 L1259.6 255.3 L1261.6 255.2 L1263.6 255.2 L1265.6 255.1 L1267.6 255.0 L1269.6 254.8 L1271.6 254.6 L1273.6 254.3 L1275.6 254.0 L1277.6 253.6 L1279.6 253.1 L1281.6 252.5 L1283.6 251.8 L1285.6 251.1 L1287.6 250.2 L1289.6 249.2 L1291.6 248.1 L1293.6 246.9 L1295.6 245.6 L1297.6 244.2 L1299.6 242.7 L1301.6 241.1 L1303.6 239.4 L1305.6 237.7 L1307.6 235.9 L1309.6 234.0 L1311.6 232.1 L1313.6 230.1 L1315.6 228.1 L1317.6 226.1 L1319.6 223.9 L1321.6 221.8 L1323.6 219.5 L1325.6 217.2 L1327.6 214.8 L1329.6 212.3 L1331.6 209.7 L1333.6 207.0 L1335.6 204.3 L1337.6 201.6 L1339.6 199.1 L1341.6 196.5 L1343.6 194.0 L1345.6 191.5 L1347.6 188.8 L1349.6 185.9 L1351.6 182.9 L1353.6 179.7 L1355.6 176.5 L1357.6 173.2 L1359.6 170.0 L1361.6 166.9 L1363.6 163.8 L1365.6 160.7 L1367.6 157.6 L1369.6 154.5 L1371.6 151.3 L1373.6 148.0 L1375.6 144.7 L1377.6 141.2 L1379.6 137.8 L1381.6 134.3 L1383.6 130.8 L1385.6 127.3 L1387.6 123.9 L1389.6 120.6 L1391.6 117.3 L1393.6 114.2 L1395.6 111.2 L1397.6 108.4 L1399.6 105.7 L1401.6 103.3 L1403.6 101.1 L1405.6 99.0 L1407.6 97.2 L1409.6 95.6 L1411.6 94.1 L1413.6 92.8 L1415.6 91.7 L1417.6 90.8 L1419.6 90.0 L1421.6 89.5 L1423.6 89.2 L1425.6 89.0 L1427.6 89.1 L1429.6 89.5 L1431.6 90.0 L1433.6 90.8 L1435.6 91.8 L1437.6 93.0 L1439.6 94.5 L1441.6 96.2 L1443.6 98.0 L1445.6 100.1 L1447.6 102.3 L1449.6 104.6 L1451.6 107.1 L1453.6 109.7 L1455.6 112.4 L1457.6 115.2 L1459.6 118.1 L1461.6 121.1 L1463.6 124.2 L1465.6 127.5 L1467.6 130.8 L1469.6 134.2 L1471.6 137.6 L1473.6 141.1 L1475.6 144.6 L1477.6 148.2 L1479.6 151.8 L1481.6 155.4 L1483.6 159.0 L1485.6 162.7 L1487.6 166.3 L1489.6 170.0 L1491.6 173.6 L1493.6 177.2 L1495.6 180.8 L1497.6 184.4 L1499.6 187.9 L1501.6 191.3 L1503.6 194.7 L1505.6 198.0 L1507.6 201.2 L1509.6 204.4 L1511.6 207.4 L1513.6 210.5 L1515.6 213.4 L1517.6 216.3 L1519.6 219.1 L1521.6 221.7 L1523.6 224.2 L1525.6 226.5 L1527.6 228.6 L1529.6 230.5 L1531.6 232.3 L1533.6 233.9 L1535.6 235.4 L1537.6 236.8 L1539.6 238.1 L1541.6 239.3 L1543.6 240.3 L1545.6 241.2 L1547.6 242.0 L1549.6 242.6 L1551.6 243.1 L1553.6 243.5 L1555.6 243.8 L1557.6 244.0 L1559.6 244.2 L1561.6 244.3 L1563.6 244.3 L1565.6 244.3 L1567.6 244.3 L1569.6 244.3 L1571.6 244.2 L1573.6 244.1 L1575.6 244.0 L1577.6 243.9 L1579.6 243.8 L1581.6 243.7 L1583.6 243.6 L1585.6 243.5 L1587.6 243.5 L1589.6 243.5 L1591.6 243.6 L1593.6 243.6 L1595.6 243.7 L1597.6 243.8 L1599.6 243.9 L1601.6 244.0 L1603.6 244.2 L1605.6 244.3 L1607.6 244.4 L1609.6 244.5 L1611.1 244.6" stroke="#0000ff" stroke-width="4.20"/>
<path d="M201.6 239.8 L203.6 241.1 L205.6 242.3 L207.6 243.5 L209.6 244.6 L211.6 245.5 L213.6 246.4 L215.6 247.1 L217.6 247.6 L219.6 248.1 L221.6 248.3 L223.6 248.5 L225.6 248.5 L227.6 248.4 L229.6 248.1 L231.6 247.7 L233.6 247.2 L235.6 246.6 L237.6 245.8 L239.6 244.9 L241.6 243.9 L243.6 242.8 L245.6 241.5 L247.6 240.2 L249.6 238.8 L251.6 237.4 L253.6 235.9 L255.6 234.3 L257.6 232.7 L259.6 231.1 L261.6 229.4 L263.6 227.8 L265.6 226.1 L267.6 224.4 L269.6 222.6 L271.6 220.9 L273.6 219.2 L275.6 217.4 L277.6 215.7 L279.6 213.8 L281.6 211.9 L283.6 209.9 L285.6 207.8 L287.6 205.7 L289.6 203.4 L291.6 201.0 L293.6 198.5 L295.6 195.9 L297.6 193.1 L299.6 190.3 L301.6 187.2 L303.6 184.1 L305.6 180.9 L307.6 177.5 L309.6 174.2 L311.6 170.7 L313.6 167.3 L315.6 163.8 L317.6 160.4 L319.6 157.0 L321.6 153.5 L323.6 150.0 L325.6 146.4 L327.6 142.7 L329.6 138.9 L331.6 135.1 L333.6 131.1 L335.6 127.2 L337.6 123.4 L339.6 119.7 L341.6 116.2 L343.6 113.0 L345.6 110.2 L347.6 107.6 L349.6 105.4 L351.6 103.4 L353.6 101.8 L355.6 100.3 L357.6 99.1 L359.6 98.2 L361.6 97.4 L363.6 96.7 L365.6 96.3 L367.6 96.0 L369.6 95.8 L371.6 95.8 L373.6 96.0 L375.6 96.4 L377.6 96.9 L379.6 97.6 L381.6 98.5 L383.6 99.6 L385.6 100.8 L387.6 102.2 L389.6 103.7 L391.6 105.4 L393.6 107.1 L395.6 108.9 L397.6 110.9 L399.6 112.8 L401.6 114.8 L403.6 116.8 L405.6 118.8 L407.6 120.8 L409.6 122.8 L411.6 124.8 L413.6 126.8 L415.6 128.8 L417.6 130.8 L419.6 132.8 L421.6 134.8 L423.6 136.8 L425.6 138.8 L427.6 140.8 L429.6 142.9 L431.6 145.0 L433.6 147.2 L435.6 149.4 L437.6 151.7 L439.6 154.1 L441.6 156.5 L443.6 158.9 L445.6 161.4 L447.6 163.9 L449.6 166.5 L451.6 169.0 L453.6 171.5 L455.6 174.0 L457.6 176.5 L459.6 179.0 L461.6 181.5 L463.6 183.9 L465.6 186.4 L467.6 188.7 L469.6 191.1 L471.6 193.3 L473.6 195.5 L475.6 197.6 L477.6 199.7 L479.6 201.6 L481.6 203.4 L483.6 205.0 L485.6 206.5 L487.6 208.0 L489.6 209.3 L491.6 210.5 L493.6 211.6 L495.6 212.6 L497.6 213.5 L499.6 214.3 L501.6 215.0 L503.6 215.7 L505.6 216.3 L507.6 216.9 L509.6 217.5 L511.6 218.0 L513.6 218.6 L515.6 219.3 L517.6 219.9 L519.6 220.6 L521.6 221.2 L523.6 221.9 L525.6 222.7 L527.6 223.5 L529.6 224.4 L531.6 225.5 L533.6 226.6 L535.6 227.8 L537.6 229.1 L539.6 230.4 L541.6 231.6 L543.6 232.9 L545.6 234.2 L547.6 235.5 L549.6 236.9 L551.6 238.4 L553.6 239.9 L555.6 241.4 L557.6 242.9 L559.6 244.4 L561.6 245.7 L563.6 246.8 L565.6 247.9 L567.6 248.8 L569.6 249.6 L571.6 250.2 L573.6 250.7 L575.6 251.1 L577.6 251.4 L579.6 251.5 L581.6 251.5 L583.6 251.5 L585.6 251.3 L587.6 251.0 L589.6 250.6 L591.6 250.0 L593.6 249.4 L595.6 248.6 L597.6 247.8 L599.6 246.8 L601.6 245.8 L603.6 244.7 L605.6 243.4 L607.6 242.1 L609.6 240.5 L611.6 238.9 L613.6 237.2 L615.6 235.5 L617.6 233.7 L619.6 232.0 L621.6 230.2 L623.6 228.4 L625.6 226.7 L627.6 224.9 L629.6 223.2 L631.6 221.4 L633.6 219.6 L635.6 217.7 L637.6 215.8 L639.6 213.8 L641.6 211.7 L643.6 209.6 L645.6 207.3 L647.6 204.9 L649.6 202.4 L651.6 199.8 L653.6 197.1 L655.6 194.2 L657.6 191.2 L659.6 188.2 L661.6 185.0 L663.6 181.8 L665.6 178.5 L667.6 175.1 L669.6 171.8 L671.6 168.3 L673.6 164.9 L675.6 161.5 L677.6 158.1 L679.6 154.7 L681.6 151.4 L683.6 148.1 L685.6 144.9 L687.6 141.8 L689.6 138.8 L691.6 136.0 L693.6 133.3 L695.6 130.7 L697.6 128.4 L699.6 126.2 L701.6 124.2 L703.6 122.5 L705.6 120.9 L707.6 119.6 L709.6 118.5 L711.6 117.5 L713.6 116.8 L715.6 116.2 L717.6 115.9 L719.6 115.7 L721.6 115.7 L723.6 115.9 L725.6 116.3 L727.6 116.9 L729.6 117.7 L731.6 118.6 L733.6 119.8 L735.6 121.1 L737.6 122.6 L739.6 124.1 L741.6 125.7 L743.6 127.4 L745.6 129.2 L747.6 131.0 L749.6 132.8 L751.6 134.8 L753.6 136.7 L755.6 138.7 L757.6 140.8 L759.6 142.9 L761.6 145.1 L763.6 147.3 L765.6 149.5 L767.6 151.8 L769.6 153.9 L771.6 156.0 L773.6 158.1 L775.6 160.1 L777.6 162.1 L779.6 164.1 L781.6 166.1 L783.6 168.2 L785.6 170.3 L787.6 172.6 L789.6 174.9 L791.6 177.4 L793.6 180.1 L795.6 182.8 L797.6 185.6 L799.6 188.4 L801.6 191.2 L803.6 194.0 L805.6 196.8 L807.6 199.5 L809.6 202.2 L811.6 204.8 L813.6 207.4 L815.6 209.9 L817.6 212.4 L819.6 214.8 L821.6 217.2 L823.6 219.5 L825.6 221.8 L827.6 224.0 L829.6 226.1 L831.6 228.0 L833.6 229.9 L835.6 231.6 L837.6 233.2 L839.6 234.7 L841.6 236.0 L843.6 237.2 L845.6 238.3 L847.6 239.4 L849.6 240.4 L851.6 241.3 L853.6 242.2 L855.6 243.0 L857.6 243.8 L859.6 244.6 L861.6 245.3 L863.6 245.9 L865.6 246.6 L867.6 247.2 L869.6 247.8 L871.6 248.5 L873.6 249.1 L875.6 249.8 L877.6 250.6 L879.6 251.4 L881.6 252.4 L883.6 253.4 L885.6 254.5 L887.6 255.7 L889.6 257.0 L891.6 258.3 L893.6 259.6 L895.6 261.0 L897.6 262.4 L899.6 263.8 L901.6 265.2 L903.6 266.6 L905.6 268.0 L907.6 269.4 L909.6 270.7 L911.6 271.9 L913.6 273.0 L915.6 274.0 L917.6 275.0 L919.6 275.9 L921.6 276.6 L923.6 277.3 L925.6 278.0 L927.6 278.5 L929.6 279.0 L931.6 279.3 L933.6 279.6 L935.6 279.7 L937.6 279.7 L939.6 279.5 L941.6 279.3 L943.6 278.8 L945.6 278.3 L947.6 277.6 L949.6 276.8 L951.6 275.8 L953.6 274.8 L955.6 273.7 L957.6 272.4 L959.6 271.1 L961.6 269.7 L963.6 268.3 L965.6 266.8 L967.6 265.2 L969.6 263.6 L971.6 261.9 L973.6 260.3 L975.6 258.6 L977.6 256.9 L979.6 255.2 L981.6 253.5 L983.6 251.7 L985.6 249.9 L987.6 247.9 L989.6 245.9 L991.6 243.7 L993.6 241.4 L995.6 239.0 L997.6 236.5 L999.6 233.8 L1001.6 231.1 L1003.6 228.3 L1005.6 225.4 L1007.6 222.4 L1009.6 219.3 L1011.6 216.2 L1013.6 213.0 L1015.6 209.7 L1017.6 206.5 L1019.6 203.1 L1021.6 199.7 L1023.6 196.3 L1025.6 192.7 L1027.6 189.2 L1029.6 185.5 L1031.6 181.9 L1033.6 178.2 L1035.6 174.6 L1037.6 171.0 L1039.6 167.4 L1041.6 163.9 L1043.6 160.5 L1045.6 157.1 L1047.6 153.9 L1049.6 150.7 L1051.6 147.7 L1053.6 144.8 L1055.6 142.2 L1057.6 139.7 L1059.6 137.5 L1061.6 135.5 L1063.6 133.8 L1065.6 132.3 L1067.6 131.1 L1069.6 130.1 L1071.6 129.3 L1073.6 128.8 L1075.6 128.4 L1077.6 128.3 L1079.6 128.4 L1081.6 128.7 L1083.6 129.2 L1085.6 129.9 L1087.6 130.8 L1089.6 131.8 L1091.6 132.9 L1093.6 134.2 L1095.6 135.6 L1097.6 137.1 L1099.6 138.7 L1101.6 140.3 L1103.6 142.0 L1105.6 143.8 L1107.6 145.6 L1109.6 147.3 L1111.6 149.1 L1113.6 151.0 L1115.6 152.8 L1117.6 154.6 L1119.6 156.4 L1121.6 158.1 L1123.6 159.9 L1125.6 161.7 L1127.6 163.6 L1129.6 165.4 L1131.6 167.3 L1133.6 169.2 L1135.6 171.2 L1137.6 173.2 L1139.6 175.4 L1141.6 177.6 L1143.6 179.9 L1145.6 182.2 L1147.6 184.5 L1149.6 186.8 L1151.6 189.2 L1153.6 191.5 L1155.6 193.8 L1157.6 196.2 L1159.6 198.6 L1161.6 201.0 L1163.6 203.4 L1165.6 205.8 L1167.6 208.1 L1169.6 210.3 L1171.6 212.5 L1173.6 214.6 L1175.6 216.7 L1177.6 218.6 L1179.6 220.4 L1181.6 222.1 L1183.6 223.7 L1185.6 225.2 L1187.6 226.6 L1189.6 227.8 L1191.6 228.9 L1193.6 229.9 L1195.6 230.7 L1197.6 231.5 L1199.6 232.0 L1201.6 232.5 L1203.6 232.9 L1205.6 233.2 L1207.6 233.5 L1209.6 233.8 L1211.6 234.0 L1213.6 234.3 L1215.6 234.6 L1217.6 234.9 L1219.6 235.2 L1221.6 235.5 L1223.6 235.9 L1225.6 236.3 L1227.6 236.7 L1229.6 237.1 L1231.6 237.6 L1233.6 238.1 L1235.6 238.6 L1237.6 239.3 L1239.6 239.9 L1241.6 240.7 L1243.6 241.6 L1245.6 242.5 L1247.6 243.5 L1249.6 244.5 L1251.6 245.5 L1253.6 246.5 L1255.6 247.5 L1257.6 248.6 L1259.6 249.6 L1261.6 250.6 L1263.6 251.7 L1265.6 252.7 L1267.6 253.7 L1269.6 254.6 L1271.6 255.4 L1273.6 256.1 L1275.6 256.8 L1277.6 257.3 L1279.6 257.6 L1281.6 257.9 L1283.6 257.9 L1285.6 257.9 L1287.6 257.6 L1289.6 257.3 L1291.6 256.8 L1293.6 256.2 L1295.6 255.5 L1297.6 254.7 L1299.6 253.8 L1301.6 252.8 L1303.6 251.7 L1305.6 250.5 L1307.6 249.2 L1309.6 247.8 L1311.6 246.4 L1313.6 244.8 L1315.6 243.3 L1317.6 241.6 L1319.6 240.0 L1321.6 238.2 L1323.6 236.4 L1325.6 234.6 L1327.6 232.7 L1329.6 230.7 L1331.6 228.6 L1333.6 226.3 L1335.6 223.9 L1337.6 221.3 L1339.6 218.6 L1341.6 215.9 L1343.6 213.1 L1345.6 210.3 L1347.6 207.6 L1349.6 204.8 L1351.6 202.0 L1353.6 199.2 L1355.6 196.4 L1357.6 193.5 L1359.6 190.6 L1361.6 187.5 L1363.6 184.4 L1365.6 181.1 L1367.6 177.8 L1369.6 174.3 L1371.6 170.8 L1373.6 167.2 L1375.6 163.6 L1377.6 160.0 L1379.6 156.5 L1381.6 153.1 L1383.6 149.7 L1385.6 146.6 L1387.6 143.6 L1389.6 140.7 L1391.6 137.9 L1393.6 135.2 L1395.6 132.5 L1397.6 129.8 L1399.6 126.9 L1401.6 124.1 L1403.6 121.2 L1405.6 118.4 L1407.6 115.8 L1409.6 113.3 L1411.6 111.0 L1413.6 109.0 L1415.6 107.2 L1417.6 105.6 L1419.6 104.3 L1421.6 103.2 L1423.6 102.2 L1425.6 101.4 L1427.6 100.9 L1429.6 100.5 L1431.6 100.3 L1433.6 100.2 L1435.6 100.4 L1437.6 100.7 L1439.6 101.2 L1441.6 102.0 L1443.6 102.9 L1445.6 104.0 L1447.6 105.4 L1449.6 106.9 L1451.6 108.5 L1453.6 110.2 L1455.6 112.0 L1457.6 113.9 L1459.6 115.9 L1461.6 117.8 L1463.6 119.9 L1465.6 122.0 L1467.6 124.1 L1469.6 126.2 L1471.6 128.4 L1473.6 130.6 L1475.6 132.8 L1477.6 135.0 L1479.6 137.2 L1481.6 139.5 L1483.6 141.7 L1485.6 143.9 L1487.6 146.1 L1489.6 148.3 L1491.6 150.4 L1493.6 152.6 L1495.6 154.7 L1497.6 156.9 L1499.6 159.1 L1501.6 161.3 L1503.6 163.6 L1505.6 166.0 L1507.6 168.5 L1509.6 171.0 L1511.6 173.6 L1513.6 176.2 L1515.6 178.8 L1517.6 181.4 L1519.6 184.0 L1521.6 186.5 L1523.6 188.9 L1525.6 191.4 L1527.6 193.7 L1529.6 196.0 L1531.6 198.3 L1533.6 200.5 L1535.6 202.6 L1537.6 204.6 L1539.6 206.5 L1541.6 208.2 L1543.6 209.9 L1545.6 211.4 L1547.6 212.7 L1549.6 213.9 L1551.6 215.1 L1553.6 216.1 L1555.6 217.1 L1557.6 218.0 L1559.6 218.8 L1561.6 219.6 L1563.6 220.4 L1565.6 221.1 L1567.6 221.9 L1569.6 222.6 L1571.6 223.3 L1573.6 224.0 L1575.6 224.7 L1577.6 225.5 L1579.6 226.2 L1581.6 226.9 L1583.6 227.7 L1585.6 228.5 L1587.6 229.3 L1589.6 230.1 L1591.6 230.9 L1593.6 231.7 L1595.6 232.5 L1597.6 233.3 L1599.6 234.1 L1601.6 234.9 L1603.6 235.7 L1605.6 236.6 L1607.6 237.4 L1609.6 238.3 L1611.1 239.0" stroke="#ff0000" stroke-width="4.20"/>
<path d="M201.6 222.2 L203.6 222.0 L205.6 221.8 L207.6 221.6 L209.6 221.4 L211.6 221.1 L213.6 220.9 L215.6 220.6 L217.6 220.2 L219.6 219.8 L221.6 219.4 L223.6 218.9 L225.6 218.4 L227.6 217.7 L229.6 217.0 L231.6 216.3 L233.6 215.4 L235.6 214.4 L237.6 213.3 L239.6 212.1 L241.6 210.8 L243.6 209.5 L245.6 208.1 L247.6 206.6 L249.6 205.1 L251.6 203.6 L253.6 202.0 L255.6 200.4 L257.6 198.8 L259.6 197.1 L261.6 195.3 L263.6 193.5 L265.6 191.7 L267.6 189.7 L269.6 187.7 L271.6 185.6 L273.6 183.4 L275.6 181.2 L277.6 178.9 L279.6 176.5 L281.6 174.1 L283.6 171.6 L285.6 169.0 L287.6 166.4 L289.6 163.7 L291.6 160.9 L293.6 158.1 L295.6 155.1 L297.6 152.1 L299.6 149.1 L301.6 145.9 L303.6 142.6 L305.6 139.2 L307.6 135.8 L309.6 132.1 L311.6 128.4 L313.6 124.6 L315.6 120.7 L317.6 116.8 L319.6 112.8 L321.6 108.7 L323.6 104.7 L325.6 100.7 L327.6 96.7 L329.6 92.7 L331.6 88.9 L333.6 85.2 L335.6 81.7 L337.6 78.3 L339.6 75.2 L341.6 72.3 L343.6 69.7 L345.6 67.4 L347.6 65.4 L349.6 63.6 L351.6 62.1 L353.6 61.0 L355.6 60.1 L357.6 59.4 L359.6 59.0 L361.6 58.9 L363.6 59.0 L365.6 59.4 L367.6 60.0 L369.6 60.8 L371.6 62.0 L373.6 63.4 L375.6 65.2 L377.6 67.2 L379.6 69.5 L381.6 72.1 L383.6 74.9 L385.6 77.9 L387.6 81.2 L389.6 84.6 L391.6 88.2 L393.6 91.9 L395.6 95.7 L397.6 99.6 L399.6 103.6 L401.6 107.6 L403.6 111.6 L405.6 115.6 L407.6 119.4 L409.6 123.3 L411.6 127.0 L413.6 130.7 L415.6 134.3 L417.6 137.9 L419.6 141.5 L421.6 144.9 L423.6 148.4 L425.6 151.8 L427.6 155.1 L429.6 158.4 L431.6 161.6 L433.6 164.8 L435.6 167.9 L437.6 171.0 L439.6 174.1 L441.6 177.0 L443.6 180.0 L445.6 182.9 L447.6 185.7 L449.6 188.5 L451.6 191.2 L453.6 193.9 L455.6 196.5 L457.6 199.1 L459.6 201.7 L461.6 204.2 L463.6 206.6 L465.6 209.1 L467.6 211.5 L469.6 213.8 L471.6 216.0 L473.6 218.0 L475.6 219.9 L477.6 221.6 L479.6 223.2 L481.6 224.5 L483.6 225.7 L485.6 226.8 L487.6 227.8 L489.6 228.6 L491.6 229.3 L493.6 229.9 L495.6 230.4 L497.6 230.8 L499.6 231.1 L501.6 231.3 L503.6 231.4 L505.6 231.4 L507.6 231.3 L509.6 231.1 L511.6 230.9 L513.6 230.5 L515.6 230.2 L517.6 229.8 L519.6 229.4 L521.6 229.0 L523.6 228.5 L525.6 228.1 L527.6 227.7 L529.6 227.2 L531.6 226.9 L533.6 226.5 L535.6 226.2 L537.6 226.0 L539.6 225.9 L541.6 225.8 L543.6 225.8 L545.6 225.9 L547.6 226.0 L549.6 226.1 L551.6 226.3 L553.6 226.5 L555.6 226.8 L557.6 227.0 L559.6 227.2 L561.6 227.4 L563.6 227.6 L565.6 227.7 L567.6 227.8 L569.6 227.8 L571.6 227.7 L573.6 227.5 L575.6 227.2 L577.6 226.9 L579.6 226.4 L581.6 225.9 L583.6 225.2 L585.6 224.5 L587.6 223.8 L589.6 222.9 L591.6 222.1 L593.6 221.1 L595.6 220.2 L597.6 219.2 L599.6 218.1 L601.6 217.0 L603.6 215.8 L605.6 214.6 L607.6 213.2 L609.6 211.8 L611.6 210.3 L613.6 208.7 L615.6 207.1 L617.6 205.4 L619.6 203.6 L621.6 201.8 L623.6 199.9 L625.6 198.0 L627.6 196.1 L629.6 194.0 L631.6 191.9 L633.6 189.8 L635.6 187.6 L637.6 185.4 L639.6 183.1 L641.6 180.7 L643.6 178.2 L645.6 175.6 L647.6 172.9 L649.6 170.0 L651.6 167.1 L653.6 164.0 L655.6 160.7 L657.6 157.4 L659.6 153.9 L661.6 150.3 L663.6 146.6 L665.6 142.8 L667.6 139.1 L669.6 135.3 L671.6 131.6 L673.6 128.0 L675.6 124.5 L677.6 121.0 L679.6 117.7 L681.6 114.4 L683.6 111.2 L685.6 108.2 L687.6 105.3 L689.6 102.5 L691.6 99.9 L693.6 97.4 L695.6 95.1 L697.6 93.0 L699.6 91.1 L701.6 89.4 L703.6 87.9 L705.6 86.7 L707.6 85.7 L709.6 85.0 L711.6 84.6 L713.6 84.6 L715.6 84.8 L717.6 85.4 L719.6 86.4 L721.6 87.6 L723.6 89.2 L725.6 91.1 L727.6 93.2 L729.6 95.6 L731.6 98.2 L733.6 101.0 L735.6 104.0 L737.6 107.2 L739.6 110.6 L741.6 114.2 L743.6 117.9 L745.6 121.7 L747.6 125.7 L749.6 129.7 L751.6 133.8 L753.6 138.0 L755.6 142.2 L757.6 146.3 L759.6 150.5 L761.6 154.7 L763.6 158.8 L765.6 162.9 L767.6 166.9 L769.6 170.8 L771.6 174.7 L773.6 178.4 L775.6 182.1 L777.6 185.7 L779.6 189.1 L781.6 192.6 L783.6 196.0 L785.6 199.3 L787.6 202.6 L789.6 205.9 L791.6 209.0 L793.6 212.0 L795.6 215.0 L797.6 217.8 L799.6 220.6 L801.6 223.4 L803.6 226.2 L805.6 228.9 L807.6 231.5 L809.6 234.1 L811.6 236.6 L813.6 239.0 L815.6 241.3 L817.6 243.5 L819.6 245.6 L821.6 247.7 L823.6 249.7 L825.6 251.6 L827.6 253.4 L829.6 255.2 L831.6 256.8 L833.6 258.3 L835.6 259.6 L837.6 260.9 L839.6 262.0 L841.6 262.9 L843.6 263.7 L845.6 264.4 L847.6 265.0 L849.6 265.4 L851.6 265.8 L853.6 266.1 L855.6 266.3 L857.6 266.4 L859.6 266.5 L861.6 266.5 L863.6 266.5 L865.6 266.4 L867.6 266.2 L869.6 266.0 L871.6 265.8 L873.6 265.6 L875.6 265.3 L877.6 265.1 L879.6 264.8 L881.6 264.5 L883.6 264.2 L885.6 264.0 L887.6 263.8 L889.6 263.6 L891.6 263.5 L893.6 263.4 L895.6 263.4 L897.6 263.4 L899.6 263.5 L901.6 263.6 L903.6 263.7 L905.6 263.8 L907.6 263.9 L909.6 264.0 L911.6 264.1 L913.6 264.2 L915.6 264.2 L917.6 264.3 L919.6 264.2 L921.6 264.1 L923.6 264.0 L925.6 263.8 L927.6 263.5 L929.6 263.1 L931.6 262.6 L933.6 262.0 L935.6 261.4 L937.6 260.7 L939.6 259.9 L941.6 259.1 L943.6 258.2 L945.6 257.2 L947.6 256.1 L949.6 254.9 L951.6 253.6 L953.6 252.3 L955.6 250.8 L957.6 249.2 L959.6 247.6 L961.6 246.0 L963.6 244.3 L965.6 242.6 L967.6 240.7 L969.6 238.9 L971.6 236.9 L973.6 234.9 L975.6 232.8 L977.6 230.6 L979.6 228.4 L981.6 226.0 L983.6 223.6 L985.6 221.1 L987.6 218.6 L989.6 216.1 L991.6 213.7 L993.6 211.2 L995.6 208.6 L997.6 206.0 L999.6 203.4 L1001.6 200.6 L1003.6 197.7 L1005.6 194.7 L1007.6 191.5 L1009.6 188.3 L1011.6 184.9 L1013.6 181.4 L1015.6 177.8 L1017.6 174.2 L1019.6 170.7 L1021.6 167.1 L1023.6 163.5 L1025.6 160.0 L1027.6 156.5 L1029.6 153.0 L1031.6 149.5 L1033.6 146.1 L1035.6 142.7 L1037.6 139.4 L1039.6 136.1 L1041.6 132.9 L1043.6 129.8 L1045.6 126.8 L1047.6 123.9 L1049.6 121.2 L1051.6 118.6 L1053.6 116.3 L1055.6 114.1 L1057.6 112.2 L1059.6 110.5 L1061.6 109.1 L1063.6 108.0 L1065.6 107.2 L1067.6 106.7 L1069.6 106.6 L1071.6 106.7 L1073.6 107.2 L1075.6 108.0 L1077.6 109.0 L1079.6 110.4 L1081.6 112.0 L1083.6 113.9 L1085.6 116.0 L1087.6 118.5 L1089.6 121.2 L1091.6 124.1 L1093.6 127.3 L1095.6 130.7 L1097.6 134.2 L1099.6 137.9 L1101.6 141.8 L1103.6 145.7 L1105.6 149.6 L1107.6 153.6 L1109.6 157.6 L1111.6 161.5 L1113.6 165.5 L1115.6 169.3 L1117.6 173.2 L1119.6 177.0 L1121.6 180.8 L1123.6 184.5 L1125.6 188.1 L1127.6 191.6 L1129.6 195.1 L1131.6 198.5 L1133.6 201.8 L1135.6 205.0 L1137.6 208.2 L1139.6 211.3 L1141.6 214.2 L1143.6 217.1 L1145.6 219.9 L1147.6 222.5 L1149.6 225.0 L1151.6 227.4 L1153.6 229.7 L1155.6 232.0 L1157.6 234.3 L1159.6 236.5 L1161.6 238.7 L1163.6 240.8 L1165.6 242.9 L1167.6 244.9 L1169.6 246.8 L1171.6 248.6 L1173.6 250.3 L1175.6 251.8 L1177.6 253.2 L1179.6 254.5 L1181.6 255.6 L1183.6 256.6 L1185.6 257.5 L1187.6 258.2 L1189.6 258.9 L1191.6 259.5 L1193.6 260.0 L1195.6 260.4 L1197.6 260.7 L1199.6 261.0 L1201.6 261.2 L1203.6 261.4 L1205.6 261.5 L1207.6 261.4 L1209.6 261.3 L1211.6 261.0 L1213.6 260.7 L1215.6 260.2 L1217.6 259.7 L1219.6 259.1 L1221.6 258.5 L1223.6 257.8 L1225.6 257.2 L1227.6 256.5 L1229.6 255.8 L1231.6 255.2 L1233.6 254.6 L1235.6 254.0 L1237.6 253.5 L1239.6 253.0 L1241.6 252.6 L1243.6 252.2 L1245.6 251.8 L1247.6 251.4 L1249.6 251.1 L1251.6 250.7 L1253.6 250.4 L1255.6 250.1 L1257.6 249.8 L1259.6 249.5 L1261.6 249.2 L1263.6 249.0 L1265.6 248.7 L1267.6 248.5 L1269.6 248.2 L1271.6 247.9 L1273.6 247.5 L1275.6 247.1 L1277.6 246.7 L1279.6 246.3 L1281.6 245.8 L1283.6 245.2 L1285.6 244.6 L1287.6 243.9 L1289.6 243.2 L1291.6 242.4 L1293.6 241.5 L1295.6 240.5 L1297.6 239.4 L1299.6 238.3 L1301.6 237.1 L1303.6 235.8 L1305.6 234.4 L1307.6 233.0 L1309.6 231.5 L1311.6 229.9 L1313.6 228.1 L1315.6 226.3 L1317.6 224.3 L1319.6 222.1 L1321.6 219.8 L1323.6 217.3 L1325.6 214.8 L1327.6 212.1 L1329.6 209.4 L1331.6 206.7 L1333.6 204.0 L1335.6 201.2 L1337.6 198.5 L1339.6 195.8 L1341.6 193.1 L1343.6 190.4 L1345.6 187.7 L1347.6 184.9 L1349.6 181.9 L1351.6 178.9 L1353.6 175.7 L1355.6 172.4 L1357.6 169.0 L1359.6 165.6 L1361.6 162.1 L1363.6 158.6 L1365.6 155.1 L1367.6 151.6 L1369.6 148.1 L1371.6 144.5 L1373.6 141.0 L1375.6 137.5 L1377.6 133.9 L1379.6 130.4 L1381.6 126.9 L1383.6 123.3 L1385.6 119.7 L1387.6 116.2 L1389.6 112.8 L1391.6 109.4 L1393.6 106.2 L1395.6 103.2 L1397.6 100.4 L1399.6 97.9 L1401.6 95.5 L1403.6 93.4 L1405.6 91.5 L1407.6 89.8 L1409.6 88.3 L1411.6 87.1 L1413.6 86.1 L1415.6 85.3 L1417.6 84.8 L1419.6 84.6 L1421.6 84.6 L1423.6 84.9 L1425.6 85.4 L1427.6 86.2 L1429.6 87.2 L1431.6 88.5 L1433.6 90.0 L1435.6 91.7 L1437.6 93.7 L1439.6 95.8 L1441.6 98.2 L1443.6 100.7 L1445.6 103.4 L1447.6 106.3 L1449.6 109.3 L1451.6 112.5 L1453.6 115.7 L1455.6 119.1 L1457.6 122.5 L1459.6 126.0 L1461.6 129.5 L1463.6 133.1 L1465.6 136.7 L1467.6 140.4 L1469.6 144.1 L1471.6 147.8 L1473.6 151.6 L1475.6 155.4 L1477.6 159.2 L1479.6 163.1 L1481.6 166.9 L1483.6 170.6 L1485.6 174.4 L1487.6 178.1 L1489.6 181.7 L1491.6 185.3 L1493.6 188.7 L1495.6 192.1 L1497.6 195.3 L1499.6 198.4 L1501.6 201.5 L1503.6 204.5 L1505.6 207.4 L1507.6 210.3 L1509.6 213.2 L1511.6 216.0 L1513.6 218.9 L1515.6 221.6 L1517.6 224.3 L1519.6 226.8 L1521.6 229.2 L1523.6 231.5 L1525.6 233.7 L1527.6 235.7 L1529.6 237.6 L1531.6 239.3 L1533.6 241.0 L1535.6 242.5 L1537.6 244.0 L1539.6 245.3 L1541.6 246.5 L1543.6 247.6 L1545.6 248.5 L1547.6 249.4 L1549.6 250.1 L1551.6 250.8 L1553.6 251.4 L1555.6 251.8 L1557.6 252.2 L1559.6 252.5 L1561.6 252.7 L1563.6 252.9 L1565.6 253.0 L1567.6 253.0 L1569.6 252.9 L1571.6 252.7 L1573.6 252.5 L1575.6 252.3 L1577.6 252.0 L1579.6 251.7 L1581.6 251.4 L1583.6 251.1 L1585.6 250.8 L1587.6 250.5 L1589.6 250.2 L1591.6 249.9 L1593.6 249.6 L1595.6 249.4 L1597.6 249.1 L1599.6 248.9 L1601.6 248.7 L1603.6 248.5 L1605.6 248.3 L1607.6 248.2 L1609.6 248.1 L1611.1 248.1" stroke="#008000" stroke-width="4.20"/>
</g>
<path d="M200.5 327 v9.3 M375.5 327 v9.3 M553.5 327 v9.3 M729.5 327 v9.3 M907.5 327 v9.3 M1082.5 327 v9.3 M1260.5 327 v9.3 M1435.5 327 v9.3 M1613.5 327 v9.3 M131 110.0 h-9.3 M131 195.5 h-9.3 M131 281.0 h-9.3" stroke="#000" stroke-width="2.10" fill="none"/>
<rect x="131" y="47" width="1550" height="280" fill="none" stroke="#000" stroke-width="2.10"/>
<text x="200.5" y="367.9" text-anchor="middle" class="tk">2011-01</text>
<text x="375.5" y="367.9" text-anchor="middle" class="tk">2011-07</text>
<text x="553.5" y="367.9" text-anchor="middle" class="tk">2012-01</text>
<text x="729.5" y="367.9" text-anchor="middle" class="tk">2012-07</text>
<text x="907.5" y="367.9" text-anchor="middle" class="tk">2013-01</text>
<text x="1082.5" y="367.9" text-anchor="middle" class="tk">2013-07</text>
<text x="1260.5" y="367.9" text-anchor="middle" class="tk">2014-01</text>
<text x="1435.5" y="367.9" text-anchor="middle" class="tk">2014-07</text>
<text x="1613.5" y="367.9" text-anchor="middle" class="tk">2015-01</text>
<text x="111.4" y="120.4" text-anchor="end" class="tk">50</text>
<text x="111.4" y="205.9" text-anchor="end" class="tk">0</text>
<text x="111.4" y="291.4" text-anchor="end" class="tk">−50</text>
<rect x="1292.3" y="58.3" width="377.6" height="169.6" rx="3.6" ry="3.6" fill="#fff" fill-opacity="0.8" stroke="#ccc" stroke-opacity="0.8" stroke-width="2.4"/>
<path d="M1301.3 76.0 H1346.1" stroke="#000000" stroke-width="8.40" stroke-linecap="square"/>
<text x="1363.3" y="84.1" class="lg">NOAA obs</text>
<path d="M1301.3 108.6 H1346.1" stroke="#ff8c00" stroke-width="4.20" stroke-linecap="square"/>
<text x="1363.3" y="116.7" class="lg">Mechanistic (Oxic)</text>
<path d="M1301.3 141.2 H1346.1" stroke="#0000ff" stroke-width="4.20" stroke-linecap="square"/>
<text x="1363.3" y="149.3" class="lg">Empirical (Oxic)</text>
<path d="M1301.3 173.8 H1346.1" stroke="#ff0000" stroke-width="4.20" stroke-linecap="square"/>
<text x="1363.3" y="181.9" class="lg">Mechanistic (Oxic+Anoxic)</text>
<path d="M1301.3 206.4 H1346.1" stroke="#008000" stroke-width="4.20" stroke-linecap="square"/>
<text x="1363.3" y="214.5" class="lg">Launois (Oxic+Anoxic)</text>
<clipPath id="c2"><rect x="126" y="455" width="1550" height="280"/></clipPath>
<path d="M270.0 455 V735 M420.5 455 V735 M568.0 455 V735 M717.0 455 V735 M867.5 455 V735 M1018.0 455 V735 M1165.0 455 V735 M1314.0 455 V735 M1464.5 455 V735 M1615.5 455 V735 M126 489.5 H1676 M126 578.0 H1676 M126 666.5 H1676" stroke="#b0b0b0" stroke-width="2.10" fill="none"/>
<g clip-path="url(#c2)" fill="none" stroke-linejoin="round" stroke-linecap="square">
<path d="M196.5 689.6 L198.5 690.9 L200.5 692.2 L202.5 693.4 L204.5 694.6 L206.5 695.8 L208.5 696.9 L210.5 697.9 L212.5 699.0 L214.5 699.9 L216.5 700.8 L218.5 701.6 L220.5 702.4 L222.5 703.0 L224.5 703.7 L226.5 704.2 L228.5 704.7 L230.5 705.1 L232.5 705.5 L234.5 705.8 L236.5 706.0 L238.5 706.2 L240.5 706.3 L242.5 706.3 L244.5 706.2 L246.5 706.1 L248.5 705.8 L250.5 705.5 L252.5 705.1 L254.5 704.6 L256.5 704.0 L258.5 703.2 L260.5 702.4 L262.5 701.5 L264.5 700.5 L266.5 699.4 L268.5 698.2 L270.5 696.9 L272.5 695.5 L274.5 694.1 L276.5 692.5 L278.5 690.8 L280.5 689.0 L282.5 687.1 L284.5 685.1 L286.5 683.0 L288.5 680.8 L290.5 678.5 L292.5 676.1 L294.5 673.5 L296.5 670.9 L298.5 668.2 L300.5 665.4 L302.5 662.5 L304.5 659.6 L306.5 656.6 L308.5 653.6 L310.5 650.6 L312.5 647.6 L314.5 644.6 L316.5 641.5 L318.5 638.5 L320.5 635.5 L322.5 632.4 L324.5 629.4 L326.5 626.4 L328.5 623.5 L330.5 620.5 L332.5 617.6 L334.5 614.8 L336.5 611.9 L338.5 609.2 L340.5 606.5 L342.5 603.8 L344.5 601.2 L346.5 598.7 L348.5 596.3 L350.5 593.9 L352.5 591.6 L354.5 589.3 L356.5 587.1 L358.5 585.0 L360.5 583.0 L362.5 581.0 L364.5 579.1 L366.5 577.2 L368.5 575.4 L370.5 573.7 L372.5 572.0 L374.5 570.4 L376.5 568.8 L378.5 567.3 L380.5 565.8 L382.5 564.3 L384.5 562.9 L386.5 561.5 L388.5 560.2 L390.5 558.9 L392.5 557.6 L394.5 556.4 L396.5 555.2 L398.5 554.0 L400.5 552.9 L402.5 551.8 L404.5 550.7 L406.5 549.6 L408.5 548.5 L410.5 547.4 L412.5 546.3 L414.5 545.3 L416.5 544.2 L418.5 543.1 L420.5 542.0 L422.5 541.0 L424.5 539.9 L426.5 538.8 L428.5 537.8 L430.5 536.7 L432.5 535.7 L434.5 534.7 L436.5 533.7 L438.5 532.7 L440.5 531.7 L442.5 530.7 L444.5 529.8 L446.5 528.8 L448.5 527.9 L450.5 527.0 L452.5 526.2 L454.5 525.3 L456.5 524.4 L458.5 523.6 L460.5 522.8 L462.5 522.0 L464.5 521.2 L466.5 520.4 L468.5 519.6 L470.5 518.8 L472.5 518.0 L474.5 517.2 L476.5 516.4 L478.5 515.7 L480.5 514.9 L482.5 514.1 L484.5 513.4 L486.5 512.6 L488.5 511.8 L490.5 511.0 L492.5 510.2 L494.5 509.4 L496.5 508.6 L498.5 507.7 L500.5 506.9 L502.5 506.1 L504.5 505.2 L506.5 504.4 L508.5 503.6 L510.5 502.7 L512.5 501.9 L514.5 501.0 L516.5 500.2 L518.5 499.4 L520.5 498.5 L522.5 497.7 L524.5 496.8 L526.5 496.0 L528.5 495.2 L530.5 494.3 L532.5 493.5 L534.5 492.7 L536.5 491.9 L538.5 491.1 L540.5 490.3 L542.5 489.6 L544.5 488.9 L546.5 488.2 L548.5 487.5 L550.5 486.8 L552.5 486.2 L554.5 485.6 L556.5 485.1 L558.5 484.6 L560.5 484.1 L562.5 483.7 L564.5 483.4 L566.5 483.1 L568.5 482.8 L570.5 482.6 L572.5 482.5 L574.5 482.4 L576.5 482.4 L578.5 482.5 L580.5 482.6 L582.5 482.8 L584.5 483.0 L586.5 483.4 L588.5 483.8 L590.5 484.4 L592.5 485.0 L594.5 485.8 L596.5 486.7 L598.5 487.7 L600.5 488.8 L602.5 490.1 L604.5 491.5 L606.5 493.1 L608.5 494.8 L610.5 496.7 L612.5 498.6 L614.5 500.8 L616.5 503.0 L618.5 505.4 L620.5 507.9 L622.5 510.5 L624.5 513.2 L626.5 516.1 L628.5 519.0 L630.5 522.0 L632.5 525.1 L634.5 528.2 L636.5 531.5 L638.5 534.7 L640.5 538.1 L642.5 541.5 L644.5 544.9 L646.5 548.4 L648.5 552.0 L650.5 555.6 L652.5 559.3 L654.5 563.1 L656.5 566.9 L658.5 570.7 L660.5 574.5 L662.5 578.3 L664.5 582.1 L666.5 585.9 L668.5 589.7 L670.5 593.4 L672.5 597.1 L674.5 600.8 L676.5 604.4 L678.5 607.9 L680.5 611.4 L682.5 614.8 L684.5 618.0 L686.5 621.2 L688.5 624.3 L690.5 627.4 L692.5 630.3 L694.5 633.3 L696.5 636.2 L698.5 639.0 L700.5 641.8 L702.5 644.6 L704.5 647.3 L706.5 649.9 L708.5 652.4 L710.5 654.8 L712.5 657.1 L714.5 659.3 L716.5 661.4 L718.5 663.5 L720.5 665.4 L722.5 667.2 L724.5 668.9 L726.5 670.6 L728.5 672.1 L730.5 673.6 L732.5 675.0 L734.5 676.3 L736.5 677.6 L738.5 678.8 L740.5 680.0 L742.5 681.1 L744.5 682.2 L746.5 683.3 L748.5 684.3 L750.5 685.4 L752.5 686.4 L754.5 687.3 L756.5 688.3 L758.5 689.3 L760.5 690.3 L762.5 691.3 L764.5 692.3 L766.5 693.3 L768.5 694.3 L770.5 695.2 L772.5 696.2 L774.5 697.2 L776.5 698.2 L778.5 699.2 L780.5 700.2 L782.5 701.2 L784.5 702.3 L786.5 703.3 L788.5 704.3 L790.5 705.3 L792.5 706.3 L794.5 707.3 L796.5 708.3 L798.5 709.3 L800.5 710.3 L802.5 711.3 L804.5 712.3 L806.5 713.3 L808.5 714.2 L810.5 715.1 L812.5 715.9 L814.5 716.8 L816.5 717.5 L818.5 718.3 L820.5 718.9 L822.5 719.5 L824.5 720.1 L826.5 720.6 L828.5 721.0 L830.5 721.3 L832.5 721.5 L834.5 721.7 L836.5 721.8 L838.5 721.8 L840.5 721.7 L842.5 721.5 L844.5 721.2 L846.5 720.9 L848.5 720.4 L850.5 719.9 L852.5 719.3 L854.5 718.6 L856.5 717.8 L858.5 716.9 L860.5 716.0 L862.5 714.9 L864.5 713.7 L866.5 712.5 L868.5 711.1 L870.5 709.6 L872.5 708.0 L874.5 706.4 L876.5 704.6 L878.5 702.7 L880.5 700.7 L882.5 698.6 L884.5 696.4 L886.5 694.1 L888.5 691.8 L890.5 689.3 L892.5 686.7 L894.5 684.0 L896.5 681.2 L898.5 678.4 L900.5 675.5 L902.5 672.6 L904.5 669.6 L906.5 666.6 L908.5 663.6 L910.5 660.6 L912.5 657.5 L914.5 654.5 L916.5 651.5 L918.5 648.4 L920.5 645.4 L922.5 642.3 L924.5 639.3 L926.5 636.3 L928.5 633.4 L930.5 630.4 L932.5 627.6 L934.5 624.8 L936.5 622.1 L938.5 619.4 L940.5 616.8 L942.5 614.2 L944.5 611.6 L946.5 609.2 L948.5 606.8 L950.5 604.4 L952.5 602.2 L954.5 600.0 L956.5 597.9 L958.5 595.8 L960.5 593.8 L962.5 591.9 L964.5 589.9 L966.5 588.0 L968.5 586.2 L970.5 584.3 L972.5 582.4 L974.5 580.5 L976.5 578.7 L978.5 576.8 L980.5 574.8 L982.5 572.9 L984.5 571.1 L986.5 569.2 L988.5 567.4 L990.5 565.7 L992.5 564.1 L994.5 562.6 L996.5 561.1 L998.5 559.8 L1000.5 558.5 L1002.5 557.3 L1004.5 556.2 L1006.5 555.1 L1008.5 554.0 L1010.5 552.9 L1012.5 551.9 L1014.5 550.9 L1016.5 549.9 L1018.5 548.9 L1020.5 547.9 L1022.5 546.9 L1024.5 546.0 L1026.5 545.0 L1028.5 544.0 L1030.5 543.0 L1032.5 542.1 L1034.5 541.1 L1036.5 540.1 L1038.5 539.2 L1040.5 538.2 L1042.5 537.3 L1044.5 536.4 L1046.5 535.4 L1048.5 534.5 L1050.5 533.6 L1052.5 532.8 L1054.5 531.9 L1056.5 531.0 L1058.5 530.1 L1060.5 529.3 L1062.5 528.4 L1064.5 527.5 L1066.5 526.7 L1068.5 525.8 L1070.5 524.9 L1072.5 524.1 L1074.5 523.2 L1076.5 522.3 L1078.5 521.4 L1080.5 520.5 L1082.5 519.6 L1084.5 518.7 L1086.5 517.8 L1088.5 516.9 L1090.5 516.0 L1092.5 515.1 L1094.5 514.2 L1096.5 513.3 L1098.5 512.4 L1100.5 511.5 L1102.5 510.6 L1104.5 509.7 L1106.5 508.8 L1108.5 507.9 L1110.5 506.9 L1112.5 506.0 L1114.5 505.1 L1116.5 504.1 L1118.5 503.2 L1120.5 502.2 L1122.5 501.3 L1124.5 500.3 L1126.5 499.4 L1128.5 498.4 L1130.5 497.5 L1132.5 496.6 L1134.5 495.8 L1136.5 494.9 L1138.5 494.1 L1140.5 493.3 L1142.5 492.6 L1144.5 491.8 L1146.5 491.1 L1148.5 490.4 L1150.5 489.8 L1152.5 489.2 L1154.5 488.6 L1156.5 488.1 L1158.5 487.6 L1160.5 487.1 L1162.5 486.7 L1164.5 486.3 L1166.5 486.0 L1168.5 485.8 L1170.5 485.6 L1172.5 485.5 L1174.5 485.4 L1176.5 485.4 L1178.5 485.5 L1180.5 485.6 L1182.5 485.9 L1184.5 486.2 L1186.5 486.6 L1188.5 487.1 L1190.5 487.7 L1192.5 488.4 L1194.5 489.3 L1196.5 490.2 L1198.5 491.3 L1200.5 492.5 L1202.5 493.9 L1204.5 495.3 L1206.5 496.9 L1208.5 498.6 L1210.5 500.4 L1212.5 502.4 L1214.5 504.4 L1216.5 506.5 L1218.5 508.8 L1220.5 511.1 L1222.5 513.5 L1224.5 516.1 L1226.5 518.7 L1228.5 521.4 L1230.5 524.2 L1232.5 527.1 L1234.5 530.1 L1236.5 533.2 L1238.5 536.4 L1240.5 539.6 L1242.5 542.9 L1244.5 546.3 L1246.5 549.8 L1248.5 553.4 L1250.5 557.0 L1252.5 560.6 L1254.5 564.3 L1256.5 568.0 L1258.5 571.8 L1260.5 575.5 L1262.5 579.2 L1264.5 582.9 L1266.5 586.6 L1268.5 590.3 L1270.5 593.8 L1272.5 597.4 L1274.5 600.9 L1276.5 604.3 L1278.5 607.7 L1280.5 611.0 L1282.5 614.3 L1284.5 617.5 L1286.5 620.6 L1288.5 623.6 L1290.5 626.6 L1292.5 629.5 L1294.5 632.3 L1296.5 635.0 L1298.5 637.7 L1300.5 640.3 L1302.5 642.9 L1304.5 645.4 L1306.5 647.9 L1308.5 650.3 L1310.5 652.7 L1312.5 655.0 L1314.5 657.2 L1316.5 659.3 L1318.5 661.3 L1320.5 663.3 L1322.5 665.2 L1324.5 666.9 L1326.5 668.6 L1328.5 670.2 L1330.5 671.7 L1332.5 673.2 L1334.5 674.6 L1336.5 675.9 L1338.5 677.2 L1340.5 678.5 L1342.5 679.7 L1344.5 680.9 L1346.5 682.0 L1348.5 683.2 L1350.5 684.3 L1352.5 685.4 L1354.5 686.4 L1356.5 687.5 L1358.5 688.5 L1360.5 689.5 L1362.5 690.5 L1364.5 691.5 L1366.5 692.5 L1368.5 693.4 L1370.5 694.4 L1372.5 695.3 L1374.5 696.3 L1376.5 697.2 L1378.5 698.2 L1380.5 699.1 L1382.5 700.0 L1384.5 700.9 L1386.5 701.9 L1388.5 702.8 L1390.5 703.7 L1392.5 704.6 L1394.5 705.5 L1396.5 706.3 L1398.5 707.2 L1400.5 708.0 L1402.5 708.8 L1404.5 709.6 L1406.5 710.3 L1408.5 711.0 L1410.5 711.7 L1412.5 712.3 L1414.5 712.9 L1416.5 713.4 L1418.5 713.9 L1420.5 714.3 L1422.5 714.6 L1424.5 714.9 L1426.5 715.2 L1428.5 715.3 L1430.5 715.5 L1432.5 715.5 L1434.5 715.5 L1436.5 715.3 L1438.5 715.1 L1440.5 714.8 L1442.5 714.5 L1444.5 714.0 L1446.5 713.5 L1448.5 712.9 L1450.5 712.2 L1452.5 711.4 L1454.5 710.6 L1456.5 709.6 L1458.5 708.6 L1460.5 707.5 L1462.5 706.3 L1464.5 705.1 L1466.5 703.7 L1468.5 702.3 L1470.5 700.8 L1472.5 699.1 L1474.5 697.4 L1476.5 695.6 L1478.5 693.7 L1480.5 691.6 L1482.5 689.5 L1484.5 687.3 L1486.5 685.0 L1488.5 682.6 L1490.5 680.1 L1492.5 677.5 L1494.5 674.8 L1496.5 672.1 L1498.5 669.4 L1500.5 666.6 L1502.5 663.7 L1504.5 660.8 L1506.5 657.9 L1508.5 655.0 L1510.5 652.0 L1512.5 649.0 L1514.5 645.9 L1516.5 642.9 L1518.5 639.8 L1520.5 636.7 L1522.5 633.7 L1524.5 630.6 L1526.5 627.5 L1528.5 624.5 L1530.5 621.5 L1532.5 618.5 L1534.5 615.6 L1536.5 612.8 L1538.5 610.1 L1540.5 607.4 L1542.5 604.8 L1544.5 602.3 L1546.5 599.8 L1548.5 597.3 L1550.5 595.0 L1552.5 592.6 L1554.5 590.3 L1556.5 588.1 L1558.5 585.9 L1560.5 583.7 L1562.5 581.6 L1564.5 579.5 L1566.5 577.5 L1568.5 575.5 L1570.5 573.6 L1572.5 571.8 L1574.5 570.0 L1576.5 568.3 L1578.5 566.6 L1580.5 565.1 L1582.5 563.5 L1584.5 562.1 L1586.5 560.7 L1588.5 559.4 L1590.5 558.1 L1592.5 556.9 L1594.5 555.7 L1596.5 554.5 L1598.5 553.2 L1600.5 552.0 L1602.5 550.7 L1604.5 549.5 L1605.2 549.1" stroke="#000000" stroke-width="8.40"/>
<path d="M196.5 593.5 L198.5 593.3 L200.5 593.2 L202.5 593.0 L204.5 592.8 L206.5 592.7 L208.5 592.5 L210.5 592.4 L212.5 592.2 L214.5 592.1 L216.5 591.9 L218.5 591.8 L220.5 591.6 L222.5 591.4 L224.5 591.3 L226.5 591.1 L228.5 590.9 L230.5 590.6 L232.5 590.4 L234.5 590.1 L236.5 589.7 L238.5 589.3 L240.5 588.9 L242.5 588.5 L244.5 588.0 L246.5 587.5 L248.5 586.9 L250.5 586.4 L252.5 585.8 L254.5 585.2 L256.5 584.5 L258.5 583.9 L260.5 583.2 L262.5 582.5 L264.5 581.7 L266.5 580.9 L268.5 580.1 L270.5 579.2 L272.5 578.3 L274.5 577.4 L276.5 576.4 L278.5 575.3 L280.5 574.3 L282.5 573.3 L284.5 572.3 L286.5 571.3 L288.5 570.3 L290.5 569.3 L292.5 568.4 L294.5 567.4 L296.5 566.5 L298.5 565.6 L300.5 564.8 L302.5 564.0 L304.5 563.2 L306.5 562.4 L308.5 561.7 L310.5 561.0 L312.5 560.3 L314.5 559.6 L316.5 559.0 L318.5 558.5 L320.5 558.0 L322.5 557.5 L324.5 557.1 L326.5 556.7 L328.5 556.4 L330.5 556.2 L332.5 556.1 L334.5 556.0 L336.5 556.0 L338.5 556.0 L340.5 556.1 L342.5 556.2 L344.5 556.4 L346.5 556.7 L348.5 556.9 L350.5 557.2 L352.5 557.5 L354.5 557.9 L356.5 558.3 L358.5 558.7 L360.5 559.1 L362.5 559.5 L364.5 559.9 L366.5 560.4 L368.5 560.9 L370.5 561.4 L372.5 561.9 L374.5 562.4 L376.5 563.0 L378.5 563.5 L380.5 564.0 L382.5 564.4 L384.5 564.9 L386.5 565.3 L388.5 565.6 L390.5 565.9 L392.5 566.2 L394.5 566.4 L396.5 566.6 L398.5 566.7 L400.5 566.7 L402.5 566.8 L404.5 566.8 L406.5 566.7 L408.5 566.7 L410.5 566.6 L412.5 566.4 L414.5 566.3 L416.5 566.1 L418.5 566.0 L420.5 565.8 L422.5 565.7 L424.5 565.5 L426.5 565.3 L428.5 565.1 L430.5 565.0 L432.5 564.8 L434.5 564.6 L436.5 564.4 L438.5 564.3 L440.5 564.1 L442.5 563.9 L444.5 563.8 L446.5 563.6 L448.5 563.5 L450.5 563.4 L452.5 563.3 L454.5 563.2 L456.5 563.1 L458.5 563.0 L460.5 563.0 L462.5 563.0 L464.5 563.0 L466.5 563.1 L468.5 563.2 L470.5 563.3 L472.5 563.5 L474.5 563.7 L476.5 564.0 L478.5 564.3 L480.5 564.7 L482.5 565.1 L484.5 565.6 L486.5 566.1 L488.5 566.6 L490.5 567.1 L492.5 567.7 L494.5 568.2 L496.5 568.8 L498.5 569.4 L500.5 570.0 L502.5 570.5 L504.5 571.1 L506.5 571.7 L508.5 572.2 L510.5 572.8 L512.5 573.3 L514.5 573.8 L516.5 574.3 L518.5 574.7 L520.5 575.1 L522.5 575.5 L524.5 575.8 L526.5 576.0 L528.5 576.2 L530.5 576.2 L532.5 576.1 L534.5 576.0 L536.5 575.7 L538.5 575.3 L540.5 574.9 L542.5 574.3 L544.5 573.7 L546.5 572.9 L548.5 572.1 L550.5 571.2 L552.5 570.1 L554.5 569.0 L556.5 567.8 L558.5 566.5 L560.5 565.1 L562.5 563.6 L564.5 562.1 L566.5 560.4 L568.5 558.8 L570.5 557.0 L572.5 555.3 L574.5 553.5 L576.5 551.7 L578.5 549.8 L580.5 548.0 L582.5 546.2 L584.5 544.4 L586.5 542.7 L588.5 540.9 L590.5 539.1 L592.5 537.2 L594.5 535.2 L596.5 533.2 L598.5 531.4 L600.5 529.6 L602.5 528.1 L604.5 526.7 L606.5 525.5 L608.5 524.4 L610.5 523.5 L612.5 522.7 L614.5 522.0 L616.5 521.4 L618.5 521.0 L620.5 520.7 L622.5 520.5 L624.5 520.4 L626.5 520.4 L628.5 520.6 L630.5 521.0 L632.5 521.5 L634.5 522.1 L636.5 522.8 L638.5 523.8 L640.5 524.8 L642.5 526.0 L644.5 527.3 L646.5 528.8 L648.5 530.3 L650.5 532.0 L652.5 533.7 L654.5 535.5 L656.5 537.4 L658.5 539.4 L660.5 541.4 L662.5 543.5 L664.5 545.7 L666.5 548.0 L668.5 550.3 L670.5 552.7 L672.5 555.1 L674.5 557.5 L676.5 560.0 L678.5 562.4 L680.5 564.9 L682.5 567.3 L684.5 569.7 L686.5 572.1 L688.5 574.5 L690.5 576.8 L692.5 579.1 L694.5 581.4 L696.5 583.6 L698.5 585.8 L700.5 587.9 L702.5 590.0 L704.5 592.0 L706.5 593.9 L708.5 595.7 L710.5 597.5 L712.5 599.2 L714.5 600.9 L716.5 602.4 L718.5 603.9 L720.5 605.3 L722.5 606.6 L724.5 607.8 L726.5 609.0 L728.5 610.0 L730.5 611.0 L732.5 611.9 L734.5 612.7 L736.5 613.4 L738.5 614.1 L740.5 614.6 L742.5 615.1 L744.5 615.6 L746.5 615.9 L748.5 616.2 L750.5 616.4 L752.5 616.6 L754.5 616.7 L756.5 616.8 L758.5 616.8 L760.5 616.7 L762.5 616.6 L764.5 616.5 L766.5 616.3 L768.5 616.2 L770.5 616.0 L772.5 615.8 L774.5 615.6 L776.5 615.3 L778.5 615.1 L780.5 614.9 L782.5 614.7 L784.5 614.5 L786.5 614.3 L788.5 614.1 L790.5 614.0 L792.5 613.8 L794.5 613.7 L796.5 613.6 L798.5 613.4 L800.5 613.3 L802.5 613.2 L804.5 613.1 L806.5 613.0 L808.5 613.0 L810.5 612.9 L812.5 612.8 L814.5 612.7 L816.5 612.6 L818.5 612.5 L820.5 612.3 L822.5 612.2 L824.5 612.0 L826.5 611.9 L828.5 611.7 L830.5 611.5 L832.5 611.2 L834.5 610.9 L836.5 610.6 L838.5 610.3 L840.5 609.9 L842.5 609.5 L844.5 609.0 L846.5 608.5 L848.5 607.9 L850.5 607.4 L852.5 606.7 L854.5 606.1 L856.5 605.4 L858.5 604.6 L860.5 603.9 L862.5 603.1 L864.5 602.3 L866.5 601.4 L868.5 600.6 L870.5 599.7 L872.5 598.7 L874.5 597.8 L876.5 596.8 L878.5 595.8 L880.5 594.8 L882.5 593.8 L884.5 592.8 L886.5 591.8 L888.5 590.7 L890.5 589.7 L892.5 588.6 L894.5 587.6 L896.5 586.6 L898.5 585.6 L900.5 584.7 L902.5 583.8 L904.5 582.9 L906.5 582.1 L908.5 581.4 L910.5 580.7 L912.5 580.1 L914.5 579.5 L916.5 579.0 L918.5 578.6 L920.5 578.2 L922.5 577.9 L924.5 577.6 L926.5 577.4 L928.5 577.2 L930.5 577.1 L932.5 577.0 L934.5 576.9 L936.5 576.9 L938.5 577.0 L940.5 577.0 L942.5 577.1 L944.5 577.2 L946.5 577.4 L948.5 577.6 L950.5 577.8 L952.5 578.0 L954.5 578.3 L956.5 578.5 L958.5 578.9 L960.5 579.2 L962.5 579.5 L964.5 579.9 L966.5 580.3 L968.5 580.7 L970.5 581.2 L972.5 581.6 L974.5 582.1 L976.5 582.5 L978.5 582.9 L980.5 583.3 L982.5 583.7 L984.5 584.1 L986.5 584.4 L988.5 584.7 L990.5 584.9 L992.5 585.1 L994.5 585.3 L996.5 585.5 L998.5 585.6 L1000.5 585.8 L1002.5 585.8 L1004.5 585.8 L1006.5 585.7 L1008.5 585.5 L1010.5 585.2 L1012.5 584.7 L1014.5 584.2 L1016.5 583.7 L1018.5 583.2 L1020.5 582.8 L1022.5 582.5 L1024.5 582.1 L1026.5 581.8 L1028.5 581.5 L1030.5 581.1 L1032.5 580.8 L1034.5 580.4 L1036.5 580.1 L1038.5 579.8 L1040.5 579.4 L1042.5 579.1 L1044.5 578.8 L1046.5 578.6 L1048.5 578.3 L1050.5 578.1 L1052.5 577.9 L1054.5 577.8 L1056.5 577.6 L1058.5 577.5 L1060.5 577.5 L1062.5 577.5 L1064.5 577.5 L1066.5 577.5 L1068.5 577.6 L1070.5 577.8 L1072.5 578.0 L1074.5 578.2 L1076.5 578.5 L1078.5 578.8 L1080.5 579.2 L1082.5 579.6 L1084.5 580.0 L1086.5 580.4 L1088.5 580.9 L1090.5 581.4 L1092.5 581.8 L1094.5 582.3 L1096.5 582.7 L1098.5 583.2 L1100.5 583.6 L1102.5 584.0 L1104.5 584.4 L1106.5 584.8 L1108.5 585.1 L1110.5 585.5 L1112.5 585.8 L1114.5 586.0 L1116.5 586.2 L1118.5 586.4 L1120.5 586.5 L1122.5 586.6 L1124.5 586.6 L1126.5 586.5 L1128.5 586.4 L1130.5 586.1 L1132.5 585.8 L1134.5 585.3 L1136.5 584.8 L1138.5 584.1 L1140.5 583.4 L1142.5 582.5 L1144.5 581.6 L1146.5 580.5 L1148.5 579.4 L1150.5 578.1 L1152.5 576.8 L1154.5 575.3 L1156.5 573.8 L1158.5 572.1 L1160.5 570.4 L1162.5 568.6 L1164.5 566.7 L1166.5 564.7 L1168.5 562.8 L1170.5 560.8 L1172.5 558.8 L1174.5 556.7 L1176.5 554.7 L1178.5 552.7 L1180.5 550.8 L1182.5 548.9 L1184.5 547.0 L1186.5 545.2 L1188.5 543.4 L1190.5 541.7 L1192.5 540.0 L1194.5 538.4 L1196.5 536.9 L1198.5 535.4 L1200.5 534.0 L1202.5 532.7 L1204.5 531.5 L1206.5 530.4 L1208.5 529.4 L1210.5 528.4 L1212.5 527.6 L1214.5 526.9 L1216.5 526.4 L1218.5 525.9 L1220.5 525.7 L1222.5 525.5 L1224.5 525.5 L1226.5 525.6 L1228.5 525.9 L1230.5 526.3 L1232.5 526.9 L1234.5 527.5 L1236.5 528.3 L1238.5 529.2 L1240.5 530.2 L1242.5 531.3 L1244.5 532.5 L1246.5 533.8 L1248.5 535.2 L1250.5 536.7 L1252.5 538.3 L1254.5 539.9 L1256.5 541.7 L1258.5 543.6 L1260.5 545.5 L1262.5 547.4 L1264.5 549.5 L1266.5 551.5 L1268.5 553.7 L1270.5 556.0 L1272.5 558.3 L1274.5 560.7 L1276.5 563.3 L1278.5 566.0 L1280.5 568.7 L1282.5 571.5 L1284.5 574.3 L1286.5 577.1 L1288.5 579.8 L1290.5 582.5 L1292.5 585.1 L1294.5 587.6 L1296.5 590.0 L1298.5 592.3 L1300.5 594.4 L1302.5 596.4 L1304.5 598.3 L1306.5 600.1 L1308.5 601.7 L1310.5 603.2 L1312.5 604.5 L1314.5 605.8 L1316.5 607.0 L1318.5 608.0 L1320.5 609.0 L1322.5 609.9 L1324.5 610.6 L1326.5 611.3 L1328.5 612.0 L1330.5 612.5 L1332.5 613.0 L1334.5 613.4 L1336.5 613.8 L1338.5 614.1 L1340.5 614.4 L1342.5 614.6 L1344.5 614.8 L1346.5 614.9 L1348.5 615.0 L1350.5 615.0 L1352.5 615.0 L1354.5 615.0 L1356.5 614.9 L1358.5 614.8 L1360.5 614.7 L1362.5 614.5 L1364.5 614.3 L1366.5 614.1 L1368.5 613.8 L1370.5 613.5 L1372.5 613.2 L1374.5 612.9 L1376.5 612.6 L1378.5 612.2 L1380.5 611.9 L1382.5 611.5 L1384.5 611.2 L1386.5 610.8 L1388.5 610.5 L1390.5 610.2 L1392.5 609.8 L1394.5 609.5 L1396.5 609.2 L1398.5 608.9 L1400.5 608.6 L1402.5 608.4 L1404.5 608.1 L1406.5 607.8 L1408.5 607.6 L1410.5 607.3 L1412.5 607.1 L1414.5 606.9 L1416.5 606.6 L1418.5 606.4 L1420.5 606.1 L1422.5 605.9 L1424.5 605.6 L1426.5 605.4 L1428.5 605.1 L1430.5 604.8 L1432.5 604.5 L1434.5 604.2 L1436.5 603.8 L1438.5 603.4 L1440.5 603.0 L1442.5 602.6 L1444.5 602.2 L1446.5 601.7 L1448.5 601.1 L1450.5 600.6 L1452.5 600.0 L1454.5 599.4 L1456.5 598.7 L1458.5 598.0 L1460.5 597.2 L1462.5 596.4 L1464.5 595.6 L1466.5 594.7 L1468.5 593.8 L1470.5 592.8 L1472.5 591.8 L1474.5 590.8 L1476.5 589.8 L1478.5 588.7 L1480.5 587.6 L1482.5 586.5 L1484.5 585.4 L1486.5 584.3 L1488.5 583.1 L1490.5 582.0 L1492.5 580.9 L1494.5 579.9 L1496.5 578.9 L1498.5 577.9 L1500.5 577.0 L1502.5 576.2 L1504.5 575.5 L1506.5 574.8 L1508.5 574.2 L1510.5 573.6 L1512.5 573.1 L1514.5 572.7 L1516.5 572.3 L1518.5 572.0 L1520.5 571.8 L1522.5 571.6 L1524.5 571.4 L1526.5 571.3 L1528.5 571.2 L1530.5 571.2 L1532.5 571.3 L1534.5 571.3 L1536.5 571.4 L1538.5 571.6 L1540.5 571.7 L1542.5 571.9 L1544.5 572.2 L1546.5 572.4 L1548.5 572.7 L1550.5 573.0 L1552.5 573.3 L1554.5 573.6 L1556.5 574.0 L1558.5 574.3 L1560.5 574.7 L1562.5 575.1 L1564.5 575.4 L1566.5 575.8 L1568.5 576.2 L1570.5 576.5 L1572.5 576.9 L1574.5 577.3 L1576.5 577.6 L1578.5 578.0 L1580.5 578.3 L1582.5 578.6 L1584.5 578.9 L1586.5 579.3 L1588.5 579.6 L1590.5 579.9 L1592.5 580.2 L1594.5 580.5 L1596.5 580.8 L1598.5 581.1 L1600.5 581.4 L1602.5 581.7 L1604.5 582.0 L1605.2 582.1" stroke="#ff8c00" stroke-width="4.20"/>
<path d="M196.5 624.0 L198.5 623.4 L200.5 622.8 L202.5 622.3 L204.5 621.7 L206.5 621.1 L208.5 620.6 L210.5 620.0 L212.5 619.5 L214.5 618.9 L216.5 618.4 L218.5 617.8 L220.5 617.3 L222.5 616.7 L224.5 616.2 L226.5 615.6 L228.5 615.0 L230.5 614.4 L232.5 613.8 L234.5 613.2 L236.5 612.5 L238.5 611.8 L240.5 611.0 L242.5 610.3 L244.5 609.5 L246.5 608.7 L248.5 607.8 L250.5 607.0 L252.5 606.1 L254.5 605.2 L256.5 604.3 L258.5 603.4 L260.5 602.5 L262.5 601.5 L264.5 600.5 L266.5 599.4 L268.5 598.3 L270.5 597.2 L272.5 595.9 L274.5 594.6 L276.5 593.3 L278.5 592.0 L280.5 590.6 L282.5 589.3 L284.5 587.9 L286.5 586.5 L288.5 585.2 L290.5 583.8 L292.5 582.5 L294.5 581.2 L296.5 579.8 L298.5 578.5 L300.5 577.1 L302.5 575.7 L304.5 574.4 L306.5 573.0 L308.5 571.7 L310.5 570.4 L312.5 569.1 L314.5 567.9 L316.5 566.7 L318.5 565.6 L320.5 564.5 L322.5 563.5 L324.5 562.5 L326.5 561.6 L328.5 560.6 L330.5 559.7 L332.5 558.8 L334.5 557.9 L336.5 557.0 L338.5 556.2 L340.5 555.4 L342.5 554.6 L344.5 554.0 L346.5 553.3 L348.5 552.8 L350.5 552.3 L352.5 551.8 L354.5 551.4 L356.5 551.0 L358.5 550.7 L360.5 550.4 L362.5 550.1 L364.5 549.9 L366.5 549.6 L368.5 549.4 L370.5 549.2 L372.5 549.0 L374.5 548.8 L376.5 548.6 L378.5 548.5 L380.5 548.3 L382.5 548.2 L384.5 548.0 L386.5 547.8 L388.5 547.6 L390.5 547.4 L392.5 547.1 L394.5 546.9 L396.5 546.5 L398.5 546.2 L400.5 545.9 L402.5 545.5 L404.5 545.1 L406.5 544.7 L408.5 544.4 L410.5 544.0 L412.5 543.5 L414.5 543.1 L416.5 542.6 L418.5 542.1 L420.5 541.6 L422.5 541.0 L424.5 540.3 L426.5 539.7 L428.5 539.1 L430.5 538.4 L432.5 537.8 L434.5 537.2 L436.5 536.6 L438.5 536.1 L440.5 535.6 L442.5 535.1 L444.5 534.7 L446.5 534.3 L448.5 534.0 L450.5 533.7 L452.5 533.4 L454.5 533.1 L456.5 532.9 L458.5 532.8 L460.5 532.6 L462.5 532.5 L464.5 532.5 L466.5 532.5 L468.5 532.6 L470.5 532.7 L472.5 532.8 L474.5 533.0 L476.5 533.3 L478.5 533.5 L480.5 533.8 L482.5 534.2 L484.5 534.6 L486.5 535.0 L488.5 535.4 L490.5 535.9 L492.5 536.4 L494.5 536.9 L496.5 537.4 L498.5 537.9 L500.5 538.4 L502.5 538.9 L504.5 539.4 L506.5 539.9 L508.5 540.4 L510.5 540.9 L512.5 541.3 L514.5 541.7 L516.5 542.1 L518.5 542.5 L520.5 542.8 L522.5 543.2 L524.5 543.5 L526.5 543.7 L528.5 543.9 L530.5 544.1 L532.5 544.2 L534.5 544.3 L536.5 544.3 L538.5 544.2 L540.5 544.0 L542.5 543.7 L544.5 543.4 L546.5 543.0 L548.5 542.4 L550.5 541.9 L552.5 541.2 L554.5 540.5 L556.5 539.6 L558.5 538.7 L560.5 537.7 L562.5 536.5 L564.5 535.3 L566.5 533.9 L568.5 532.4 L570.5 530.9 L572.5 529.2 L574.5 527.5 L576.5 525.7 L578.5 523.9 L580.5 522.1 L582.5 520.2 L584.5 518.3 L586.5 516.3 L588.5 514.4 L590.5 512.5 L592.5 510.5 L594.5 508.6 L596.5 506.7 L598.5 504.9 L600.5 503.1 L602.5 501.4 L604.5 499.9 L606.5 498.5 L608.5 497.2 L610.5 496.0 L612.5 495.0 L614.5 494.1 L616.5 493.4 L618.5 492.8 L620.5 492.4 L622.5 492.1 L624.5 492.0 L626.5 492.0 L628.5 492.3 L630.5 492.7 L632.5 493.4 L634.5 494.2 L636.5 495.3 L638.5 496.5 L640.5 497.9 L642.5 499.5 L644.5 501.2 L646.5 503.0 L648.5 505.0 L650.5 507.1 L652.5 509.4 L654.5 511.9 L656.5 514.5 L658.5 517.3 L660.5 520.2 L662.5 523.2 L664.5 526.4 L666.5 529.6 L668.5 532.9 L670.5 536.4 L672.5 539.8 L674.5 543.4 L676.5 546.9 L678.5 550.5 L680.5 554.1 L682.5 557.6 L684.5 561.2 L686.5 564.7 L688.5 568.3 L690.5 571.9 L692.5 575.6 L694.5 579.3 L696.5 583.0 L698.5 586.8 L700.5 590.6 L702.5 594.3 L704.5 598.1 L706.5 601.7 L708.5 605.3 L710.5 608.9 L712.5 612.3 L714.5 615.6 L716.5 618.9 L718.5 622.0 L720.5 625.0 L722.5 627.8 L724.5 630.6 L726.5 633.2 L728.5 635.7 L730.5 638.1 L732.5 640.4 L734.5 642.6 L736.5 644.7 L738.5 646.6 L740.5 648.5 L742.5 650.2 L744.5 651.8 L746.5 653.2 L748.5 654.6 L750.5 655.7 L752.5 656.7 L754.5 657.5 L756.5 658.2 L758.5 658.7 L760.5 659.2 L762.5 659.5 L764.5 659.8 L766.5 660.0 L768.5 660.2 L770.5 660.2 L772.5 660.2 L774.5 660.1 L776.5 660.0 L778.5 659.8 L780.5 659.5 L782.5 659.3 L784.5 658.9 L786.5 658.6 L788.5 658.2 L790.5 657.8 L792.5 657.3 L794.5 656.9 L796.5 656.4 L798.5 656.0 L800.5 655.5 L802.5 655.0 L804.5 654.5 L806.5 654.0 L808.5 653.5 L810.5 652.9 L812.5 652.4 L814.5 651.8 L816.5 651.2 L818.5 650.7 L820.5 650.1 L822.5 649.5 L824.5 648.9 L826.5 648.4 L828.5 647.8 L830.5 647.2 L832.5 646.6 L834.5 645.9 L836.5 645.3 L838.5 644.6 L840.5 644.0 L842.5 643.3 L844.5 642.6 L846.5 641.8 L848.5 641.1 L850.5 640.3 L852.5 639.5 L854.5 638.7 L856.5 637.9 L858.5 637.0 L860.5 636.2 L862.5 635.2 L864.5 634.2 L866.5 633.2 L868.5 632.1 L870.5 631.0 L872.5 629.8 L874.5 628.6 L876.5 627.3 L878.5 626.0 L880.5 624.6 L882.5 623.2 L884.5 621.8 L886.5 620.3 L888.5 618.8 L890.5 617.3 L892.5 615.9 L894.5 614.4 L896.5 613.0 L898.5 611.6 L900.5 610.2 L902.5 608.9 L904.5 607.5 L906.5 606.2 L908.5 604.9 L910.5 603.7 L912.5 602.4 L914.5 601.1 L916.5 599.9 L918.5 598.7 L920.5 597.5 L922.5 596.4 L924.5 595.3 L926.5 594.2 L928.5 593.2 L930.5 592.2 L932.5 591.2 L934.5 590.3 L936.5 589.4 L938.5 588.6 L940.5 587.8 L942.5 587.0 L944.5 586.3 L946.5 585.6 L948.5 584.9 L950.5 584.3 L952.5 583.7 L954.5 583.1 L956.5 582.6 L958.5 582.2 L960.5 581.7 L962.5 581.3 L964.5 580.9 L966.5 580.6 L968.5 580.2 L970.5 579.9 L972.5 579.6 L974.5 579.4 L976.5 579.1 L978.5 578.8 L980.5 578.6 L982.5 578.3 L984.5 578.1 L986.5 577.8 L988.5 577.6 L990.5 577.3 L992.5 577.0 L994.5 576.7 L996.5 576.3 L998.5 575.8 L1000.5 575.3 L1002.5 574.7 L1004.5 574.1 L1006.5 573.4 L1008.5 572.6 L1010.5 571.8 L1012.5 571.0 L1014.5 570.2 L1016.5 569.4 L1018.5 568.6 L1020.5 567.8 L1022.5 567.1 L1024.5 566.3 L1026.5 565.5 L1028.5 564.8 L1030.5 564.1 L1032.5 563.4 L1034.5 562.7 L1036.5 562.0 L1038.5 561.4 L1040.5 560.8 L1042.5 560.2 L1044.5 559.6 L1046.5 559.1 L1048.5 558.6 L1050.5 558.1 L1052.5 557.7 L1054.5 557.3 L1056.5 557.0 L1058.5 556.7 L1060.5 556.5 L1062.5 556.3 L1064.5 556.1 L1066.5 556.0 L1068.5 555.9 L1070.5 555.9 L1072.5 555.9 L1074.5 556.0 L1076.5 556.1 L1078.5 556.2 L1080.5 556.3 L1082.5 556.5 L1084.5 556.7 L1086.5 557.0 L1088.5 557.3 L1090.5 557.6 L1092.5 557.9 L1094.5 558.3 L1096.5 558.7 L1098.5 559.1 L1100.5 559.5 L1102.5 560.0 L1104.5 560.4 L1106.5 560.8 L1108.5 561.2 L1110.5 561.6 L1112.5 562.0 L1114.5 562.3 L1116.5 562.6 L1118.5 562.8 L1120.5 563.1 L1122.5 563.2 L1124.5 563.3 L1126.5 563.3 L1128.5 563.3 L1130.5 563.2 L1132.5 563.0 L1134.5 562.7 L1136.5 562.3 L1138.5 561.8 L1140.5 561.2 L1142.5 560.5 L1144.5 559.7 L1146.5 558.9 L1148.5 557.9 L1150.5 556.9 L1152.5 555.8 L1154.5 554.5 L1156.5 553.2 L1158.5 551.7 L1160.5 550.1 L1162.5 548.3 L1164.5 546.5 L1166.5 544.7 L1168.5 542.8 L1170.5 540.8 L1172.5 538.8 L1174.5 536.8 L1176.5 534.8 L1178.5 532.8 L1180.5 530.8 L1182.5 528.7 L1184.5 526.6 L1186.5 524.6 L1188.5 522.5 L1190.5 520.6 L1192.5 518.6 L1194.5 516.8 L1196.5 515.0 L1198.5 513.3 L1200.5 511.7 L1202.5 510.2 L1204.5 508.9 L1206.5 507.6 L1208.5 506.4 L1210.5 505.3 L1212.5 504.4 L1214.5 503.5 L1216.5 502.8 L1218.5 502.2 L1220.5 501.8 L1222.5 501.6 L1224.5 501.5 L1226.5 501.5 L1228.5 501.8 L1230.5 502.2 L1232.5 502.8 L1234.5 503.5 L1236.5 504.5 L1238.5 505.6 L1240.5 506.8 L1242.5 508.2 L1244.5 509.8 L1246.5 511.6 L1248.5 513.5 L1250.5 515.6 L1252.5 517.9 L1254.5 520.3 L1256.5 522.8 L1258.5 525.5 L1260.5 528.3 L1262.5 531.2 L1264.5 534.2 L1266.5 537.2 L1268.5 540.4 L1270.5 543.6 L1272.5 547.0 L1274.5 550.4 L1276.5 554.0 L1278.5 557.6 L1280.5 561.3 L1282.5 565.2 L1284.5 569.1 L1286.5 573.0 L1288.5 577.1 L1290.5 581.1 L1292.5 585.2 L1294.5 589.3 L1296.5 593.4 L1298.5 597.5 L1300.5 601.5 L1302.5 605.4 L1304.5 609.2 L1306.5 612.9 L1308.5 616.6 L1310.5 620.1 L1312.5 623.5 L1314.5 626.8 L1316.5 630.0 L1318.5 633.0 L1320.5 635.8 L1322.5 638.4 L1324.5 640.8 L1326.5 643.0 L1328.5 645.0 L1330.5 646.8 L1332.5 648.4 L1334.5 649.9 L1336.5 651.2 L1338.5 652.4 L1340.5 653.4 L1342.5 654.4 L1344.5 655.2 L1346.5 655.9 L1348.5 656.6 L1350.5 657.1 L1352.5 657.6 L1354.5 658.0 L1356.5 658.3 L1358.5 658.5 L1360.5 658.7 L1362.5 658.7 L1364.5 658.7 L1366.5 658.6 L1368.5 658.5 L1370.5 658.3 L1372.5 658.0 L1374.5 657.7 L1376.5 657.3 L1378.5 656.9 L1380.5 656.4 L1382.5 656.0 L1384.5 655.5 L1386.5 654.9 L1388.5 654.4 L1390.5 653.8 L1392.5 653.2 L1394.5 652.6 L1396.5 652.0 L1398.5 651.4 L1400.5 650.8 L1402.5 650.2 L1404.5 649.5 L1406.5 648.9 L1408.5 648.2 L1410.5 647.5 L1412.5 646.9 L1414.5 646.2 L1416.5 645.5 L1418.5 644.8 L1420.5 644.2 L1422.5 643.5 L1424.5 642.8 L1426.5 642.1 L1428.5 641.5 L1430.5 640.8 L1432.5 640.2 L1434.5 639.6 L1436.5 638.9 L1438.5 638.3 L1440.5 637.7 L1442.5 637.0 L1444.5 636.3 L1446.5 635.6 L1448.5 634.8 L1450.5 633.9 L1452.5 633.1 L1454.5 632.1 L1456.5 631.1 L1458.5 630.1 L1460.5 629.0 L1462.5 627.8 L1464.5 626.5 L1466.5 625.2 L1468.5 623.9 L1470.5 622.5 L1472.5 621.1 L1474.5 619.6 L1476.5 618.1 L1478.5 616.6 L1480.5 615.1 L1482.5 613.6 L1484.5 612.1 L1486.5 610.5 L1488.5 609.0 L1490.5 607.4 L1492.5 605.9 L1494.5 604.3 L1496.5 602.7 L1498.5 601.2 L1500.5 599.6 L1502.5 598.1 L1504.5 596.6 L1506.5 595.1 L1508.5 593.7 L1510.5 592.3 L1512.5 591.0 L1514.5 589.7 L1516.5 588.5 L1518.5 587.4 L1520.5 586.3 L1522.5 585.3 L1524.5 584.3 L1526.5 583.4 L1528.5 582.6 L1530.5 581.8 L1532.5 581.1 L1534.5 580.4 L1536.5 579.7 L1538.5 579.1 L1540.5 578.5 L1542.5 578.0 L1544.5 577.4 L1546.5 576.9 L1548.5 576.5 L1550.5 576.0 L1552.5 575.6 L1554.5 575.2 L1556.5 574.8 L1558.5 574.5 L1560.5 574.2 L1562.5 573.8 L1564.5 573.5 L1566.5 573.2 L1568.5 572.9 L1570.5 572.6 L1572.5 572.3 L1574.5 572.0 L1576.5 571.7 L1578.5 571.4 L1580.5 571.1 L1582.5 570.8 L1584.5 570.5 L1586.5 570.2 L1588.5 569.9 L1590.5 569.6 L1592.5 569.2 L1594.5 568.9 L1596.5 568.5 L1598.5 568.1 L1600.5 567.7 L1602.5 567.3 L1604.5 566.9 L1605.2 566.8" stroke="#0000ff" stroke-width="4.20"/>
<path d="M196.5 586.0 L198.5 585.7 L200.5 585.5 L202.5 585.2 L204.5 584.9 L206.5 584.7 L208.5 584.5 L210.5 584.2 L212.5 584.0 L214.5 583.8 L216.5 583.6 L218.5 583.5 L220.5 583.3 L222.5 583.1 L224.5 583.0 L226.5 582.8 L228.5 582.7 L230.5 582.5 L232.5 582.3 L234.5 582.0 L236.5 581.8 L238.5 581.5 L240.5 581.2 L242.5 580.9 L244.5 580.5 L246.5 580.1 L248.5 579.7 L250.5 579.2 L252.5 578.7 L254.5 578.1 L256.5 577.6 L258.5 576.9 L260.5 576.3 L262.5 575.5 L264.5 574.8 L266.5 574.0 L268.5 573.1 L270.5 572.2 L272.5 571.3 L274.5 570.3 L276.5 569.4 L278.5 568.3 L280.5 567.3 L282.5 566.3 L284.5 565.3 L286.5 564.3 L288.5 563.3 L290.5 562.3 L292.5 561.4 L294.5 560.4 L296.5 559.5 L298.5 558.6 L300.5 557.8 L302.5 557.0 L304.5 556.1 L306.5 555.4 L308.5 554.6 L310.5 553.9 L312.5 553.3 L314.5 552.7 L316.5 552.1 L318.5 551.5 L320.5 551.1 L322.5 550.6 L324.5 550.3 L326.5 549.9 L328.5 549.7 L330.5 549.5 L332.5 549.3 L334.5 549.2 L336.5 549.2 L338.5 549.2 L340.5 549.3 L342.5 549.4 L344.5 549.5 L346.5 549.7 L348.5 550.0 L350.5 550.3 L352.5 550.7 L354.5 551.2 L356.5 551.7 L358.5 552.2 L360.5 552.8 L362.5 553.5 L364.5 554.2 L366.5 554.9 L368.5 555.7 L370.5 556.4 L372.5 557.2 L374.5 558.0 L376.5 558.8 L378.5 559.5 L380.5 560.3 L382.5 561.1 L384.5 561.8 L386.5 562.6 L388.5 563.3 L390.5 564.0 L392.5 564.7 L394.5 565.3 L396.5 565.9 L398.5 566.4 L400.5 566.8 L402.5 567.2 L404.5 567.5 L406.5 567.7 L408.5 567.9 L410.5 568.1 L412.5 568.2 L414.5 568.3 L416.5 568.3 L418.5 568.3 L420.5 568.3 L422.5 568.3 L424.5 568.2 L426.5 568.2 L428.5 568.1 L430.5 568.0 L432.5 567.8 L434.5 567.7 L436.5 567.5 L438.5 567.3 L440.5 567.2 L442.5 567.0 L444.5 566.8 L446.5 566.6 L448.5 566.4 L450.5 566.3 L452.5 566.1 L454.5 566.0 L456.5 565.9 L458.5 565.8 L460.5 565.7 L462.5 565.7 L464.5 565.7 L466.5 565.8 L468.5 565.9 L470.5 566.1 L472.5 566.4 L474.5 566.7 L476.5 567.1 L478.5 567.6 L480.5 568.1 L482.5 568.7 L484.5 569.3 L486.5 570.0 L488.5 570.7 L490.5 571.4 L492.5 572.2 L494.5 572.9 L496.5 573.7 L498.5 574.5 L500.5 575.3 L502.5 576.0 L504.5 576.8 L506.5 577.6 L508.5 578.3 L510.5 579.0 L512.5 579.7 L514.5 580.4 L516.5 581.0 L518.5 581.6 L520.5 582.1 L522.5 582.6 L524.5 583.1 L526.5 583.5 L528.5 583.8 L530.5 584.0 L532.5 584.2 L534.5 584.2 L536.5 584.2 L538.5 584.0 L540.5 583.8 L542.5 583.4 L544.5 583.0 L546.5 582.5 L548.5 581.8 L550.5 581.1 L552.5 580.2 L554.5 579.3 L556.5 578.2 L558.5 577.1 L560.5 575.8 L562.5 574.4 L564.5 572.8 L566.5 571.1 L568.5 569.3 L570.5 567.4 L572.5 565.4 L574.5 563.4 L576.5 561.3 L578.5 559.2 L580.5 557.2 L582.5 555.1 L584.5 553.1 L586.5 551.1 L588.5 548.9 L590.5 546.8 L592.5 544.5 L594.5 542.1 L596.5 539.8 L598.5 537.4 L600.5 535.0 L602.5 532.7 L604.5 530.5 L606.5 528.4 L608.5 526.5 L610.5 524.7 L612.5 523.1 L614.5 521.7 L616.5 520.5 L618.5 519.4 L620.5 518.5 L622.5 517.7 L624.5 517.0 L626.5 516.5 L628.5 516.1 L630.5 515.9 L632.5 515.7 L634.5 515.7 L636.5 515.9 L638.5 516.1 L640.5 516.5 L642.5 517.1 L644.5 517.8 L646.5 518.7 L648.5 519.8 L650.5 521.0 L652.5 522.3 L654.5 523.8 L656.5 525.4 L658.5 527.1 L660.5 528.9 L662.5 530.8 L664.5 532.8 L666.5 534.9 L668.5 537.1 L670.5 539.4 L672.5 541.8 L674.5 544.4 L676.5 547.0 L678.5 549.6 L680.5 552.3 L682.5 554.9 L684.5 557.6 L686.5 560.3 L688.5 562.9 L690.5 565.5 L692.5 568.1 L694.5 570.6 L696.5 573.1 L698.5 575.6 L700.5 578.1 L702.5 580.5 L704.5 582.8 L706.5 585.1 L708.5 587.4 L710.5 589.6 L712.5 591.7 L714.5 593.7 L716.5 595.6 L718.5 597.4 L720.5 599.1 L722.5 600.7 L724.5 602.2 L726.5 603.6 L728.5 604.8 L730.5 606.0 L732.5 607.0 L734.5 607.9 L736.5 608.7 L738.5 609.5 L740.5 610.1 L742.5 610.7 L744.5 611.2 L746.5 611.5 L748.5 611.9 L750.5 612.1 L752.5 612.3 L754.5 612.4 L756.5 612.5 L758.5 612.5 L760.5 612.4 L762.5 612.3 L764.5 612.2 L766.5 612.0 L768.5 611.8 L770.5 611.5 L772.5 611.3 L774.5 611.0 L776.5 610.7 L778.5 610.4 L780.5 610.1 L782.5 609.8 L784.5 609.5 L786.5 609.2 L788.5 609.0 L790.5 608.7 L792.5 608.5 L794.5 608.2 L796.5 608.0 L798.5 607.8 L800.5 607.6 L802.5 607.4 L804.5 607.2 L806.5 607.1 L808.5 606.9 L810.5 606.8 L812.5 606.6 L814.5 606.5 L816.5 606.4 L818.5 606.2 L820.5 606.1 L822.5 605.9 L824.5 605.8 L826.5 605.6 L828.5 605.4 L830.5 605.3 L832.5 605.1 L834.5 604.8 L836.5 604.6 L838.5 604.3 L840.5 604.1 L842.5 603.8 L844.5 603.4 L846.5 603.1 L848.5 602.7 L850.5 602.3 L852.5 601.8 L854.5 601.3 L856.5 600.8 L858.5 600.2 L860.5 599.5 L862.5 598.8 L864.5 598.0 L866.5 597.2 L868.5 596.4 L870.5 595.4 L872.5 594.5 L874.5 593.5 L876.5 592.4 L878.5 591.3 L880.5 590.2 L882.5 589.1 L884.5 587.9 L886.5 586.8 L888.5 585.7 L890.5 584.6 L892.5 583.6 L894.5 582.6 L896.5 581.6 L898.5 580.6 L900.5 579.7 L902.5 578.7 L904.5 577.9 L906.5 577.0 L908.5 576.2 L910.5 575.5 L912.5 574.8 L914.5 574.1 L916.5 573.5 L918.5 573.0 L920.5 572.5 L922.5 572.1 L924.5 571.7 L926.5 571.4 L928.5 571.1 L930.5 570.9 L932.5 570.7 L934.5 570.6 L936.5 570.5 L938.5 570.5 L940.5 570.5 L942.5 570.6 L944.5 570.8 L946.5 571.0 L948.5 571.3 L950.5 571.6 L952.5 572.0 L954.5 572.5 L956.5 572.9 L958.5 573.5 L960.5 574.0 L962.5 574.6 L964.5 575.3 L966.5 575.9 L968.5 576.6 L970.5 577.3 L972.5 578.0 L974.5 578.7 L976.5 579.3 L978.5 580.0 L980.5 580.6 L982.5 581.2 L984.5 581.8 L986.5 582.3 L988.5 582.8 L990.5 583.2 L992.5 583.6 L994.5 584.0 L996.5 584.4 L998.5 584.7 L1000.5 584.9 L1002.5 585.1 L1004.5 585.3 L1006.5 585.5 L1008.5 585.6 L1010.5 585.6 L1012.5 585.6 L1014.5 585.5 L1016.5 585.4 L1018.5 585.2 L1020.5 585.0 L1022.5 584.8 L1024.5 584.5 L1026.5 584.3 L1028.5 584.0 L1030.5 583.7 L1032.5 583.4 L1034.5 583.1 L1036.5 582.8 L1038.5 582.6 L1040.5 582.3 L1042.5 582.0 L1044.5 581.8 L1046.5 581.6 L1048.5 581.4 L1050.5 581.2 L1052.5 581.0 L1054.5 580.9 L1056.5 580.8 L1058.5 580.8 L1060.5 580.8 L1062.5 580.8 L1064.5 580.9 L1066.5 581.0 L1068.5 581.2 L1070.5 581.4 L1072.5 581.6 L1074.5 581.9 L1076.5 582.3 L1078.5 582.7 L1080.5 583.1 L1082.5 583.5 L1084.5 584.0 L1086.5 584.5 L1088.5 585.1 L1090.5 585.7 L1092.5 586.3 L1094.5 586.9 L1096.5 587.5 L1098.5 588.1 L1100.5 588.7 L1102.5 589.3 L1104.5 589.8 L1106.5 590.4 L1108.5 590.9 L1110.5 591.4 L1112.5 591.8 L1114.5 592.2 L1116.5 592.5 L1118.5 592.8 L1120.5 593.1 L1122.5 593.3 L1124.5 593.4 L1126.5 593.5 L1128.5 593.5 L1130.5 593.4 L1132.5 593.2 L1134.5 593.0 L1136.5 592.6 L1138.5 592.1 L1140.5 591.6 L1142.5 591.0 L1144.5 590.2 L1146.5 589.4 L1148.5 588.5 L1150.5 587.5 L1152.5 586.3 L1154.5 585.1 L1156.5 583.7 L1158.5 582.1 L1160.5 580.5 L1162.5 578.7 L1164.5 576.8 L1166.5 574.9 L1168.5 572.8 L1170.5 570.7 L1172.5 568.6 L1174.5 566.4 L1176.5 564.2 L1178.5 562.0 L1180.5 559.8 L1182.5 557.5 L1184.5 555.3 L1186.5 553.0 L1188.5 550.8 L1190.5 548.6 L1192.5 546.4 L1194.5 544.3 L1196.5 542.1 L1198.5 540.0 L1200.5 537.9 L1202.5 535.9 L1204.5 534.0 L1206.5 532.2 L1208.5 530.4 L1210.5 528.8 L1212.5 527.3 L1214.5 525.8 L1216.5 524.5 L1218.5 523.3 L1220.5 522.2 L1222.5 521.3 L1224.5 520.4 L1226.5 519.7 L1228.5 519.1 L1230.5 518.7 L1232.5 518.4 L1234.5 518.2 L1236.5 518.2 L1238.5 518.4 L1240.5 518.7 L1242.5 519.2 L1244.5 519.9 L1246.5 520.7 L1248.5 521.7 L1250.5 522.8 L1252.5 524.1 L1254.5 525.5 L1256.5 527.1 L1258.5 528.8 L1260.5 530.6 L1262.5 532.5 L1264.5 534.5 L1266.5 536.5 L1268.5 538.7 L1270.5 540.9 L1272.5 543.2 L1274.5 545.7 L1276.5 548.1 L1278.5 550.7 L1280.5 553.4 L1282.5 556.1 L1284.5 558.8 L1286.5 561.6 L1288.5 564.5 L1290.5 567.4 L1292.5 570.3 L1294.5 573.1 L1296.5 575.9 L1298.5 578.7 L1300.5 581.3 L1302.5 583.8 L1304.5 586.2 L1306.5 588.4 L1308.5 590.5 L1310.5 592.4 L1312.5 594.2 L1314.5 595.9 L1316.5 597.3 L1318.5 598.7 L1320.5 599.9 L1322.5 601.0 L1324.5 602.0 L1326.5 602.8 L1328.5 603.6 L1330.5 604.3 L1332.5 604.9 L1334.5 605.4 L1336.5 605.8 L1338.5 606.2 L1340.5 606.5 L1342.5 606.7 L1344.5 606.9 L1346.5 607.0 L1348.5 607.0 L1350.5 607.0 L1352.5 606.9 L1354.5 606.8 L1356.5 606.6 L1358.5 606.4 L1360.5 606.2 L1362.5 606.0 L1364.5 605.7 L1366.5 605.4 L1368.5 605.1 L1370.5 604.8 L1372.5 604.5 L1374.5 604.2 L1376.5 603.9 L1378.5 603.6 L1380.5 603.2 L1382.5 602.9 L1384.5 602.6 L1386.5 602.3 L1388.5 602.0 L1390.5 601.7 L1392.5 601.5 L1394.5 601.2 L1396.5 600.9 L1398.5 600.7 L1400.5 600.4 L1402.5 600.2 L1404.5 600.0 L1406.5 599.8 L1408.5 599.6 L1410.5 599.4 L1412.5 599.2 L1414.5 599.0 L1416.5 598.8 L1418.5 598.6 L1420.5 598.5 L1422.5 598.3 L1424.5 598.2 L1426.5 598.0 L1428.5 597.8 L1430.5 597.7 L1432.5 597.5 L1434.5 597.3 L1436.5 597.1 L1438.5 596.9 L1440.5 596.6 L1442.5 596.3 L1444.5 596.0 L1446.5 595.7 L1448.5 595.3 L1450.5 594.9 L1452.5 594.4 L1454.5 593.9 L1456.5 593.4 L1458.5 592.8 L1460.5 592.1 L1462.5 591.4 L1464.5 590.6 L1466.5 589.8 L1468.5 588.9 L1470.5 588.0 L1472.5 587.0 L1474.5 586.0 L1476.5 584.9 L1478.5 583.8 L1480.5 582.7 L1482.5 581.5 L1484.5 580.3 L1486.5 579.2 L1488.5 578.0 L1490.5 576.8 L1492.5 575.6 L1494.5 574.5 L1496.5 573.4 L1498.5 572.3 L1500.5 571.3 L1502.5 570.3 L1504.5 569.5 L1506.5 568.6 L1508.5 567.9 L1510.5 567.2 L1512.5 566.6 L1514.5 566.0 L1516.5 565.5 L1518.5 565.1 L1520.5 564.7 L1522.5 564.3 L1524.5 564.1 L1526.5 563.9 L1528.5 563.7 L1530.5 563.6 L1532.5 563.6 L1534.5 563.6 L1536.5 563.7 L1538.5 563.8 L1540.5 564.0 L1542.5 564.2 L1544.5 564.5 L1546.5 564.8 L1548.5 565.2 L1550.5 565.6 L1552.5 566.1 L1554.5 566.7 L1556.5 567.3 L1558.5 567.9 L1560.5 568.6 L1562.5 569.3 L1564.5 570.0 L1566.5 570.7 L1568.5 571.4 L1570.5 572.1 L1572.5 572.8 L1574.5 573.5 L1576.5 574.1 L1578.5 574.8 L1580.5 575.4 L1582.5 576.1 L1584.5 576.7 L1586.5 577.4 L1588.5 578.0 L1590.5 578.6 L1592.5 579.2 L1594.5 579.8 L1596.5 580.3 L1598.5 580.8 L1600.5 581.3 L1602.5 581.8 L1604.5 582.3 L1605.2 582.4" stroke="#ff0000" stroke-width="4.20"/>
<path d="M196.5 647.0 L198.5 646.4 L200.5 645.7 L202.5 645.0 L204.5 644.2 L206.5 643.4 L208.5 642.6 L210.5 641.7 L212.5 640.8 L214.5 639.7 L216.5 638.7 L218.5 637.6 L220.5 636.4 L222.5 635.2 L224.5 634.1 L226.5 632.9 L228.5 631.7 L230.5 630.5 L232.5 629.3 L234.5 628.1 L236.5 627.0 L238.5 625.8 L240.5 624.7 L242.5 623.6 L244.5 622.5 L246.5 621.5 L248.5 620.5 L250.5 619.5 L252.5 618.6 L254.5 617.7 L256.5 616.9 L258.5 616.1 L260.5 615.4 L262.5 614.7 L264.5 614.1 L266.5 613.5 L268.5 612.9 L270.5 612.3 L272.5 611.8 L274.5 611.3 L276.5 610.9 L278.5 610.5 L280.5 610.1 L282.5 609.8 L284.5 609.6 L286.5 609.4 L288.5 609.3 L290.5 609.2 L292.5 609.1 L294.5 609.1 L296.5 609.1 L298.5 609.2 L300.5 609.3 L302.5 609.4 L304.5 609.5 L306.5 609.6 L308.5 609.7 L310.5 609.8 L312.5 609.9 L314.5 610.0 L316.5 610.0 L318.5 610.1 L320.5 610.1 L322.5 610.0 L324.5 609.9 L326.5 609.8 L328.5 609.6 L330.5 609.4 L332.5 609.2 L334.5 608.8 L336.5 608.4 L338.5 608.0 L340.5 607.5 L342.5 607.0 L344.5 606.4 L346.5 605.8 L348.5 605.1 L350.5 604.4 L352.5 603.6 L354.5 602.7 L356.5 601.8 L358.5 600.8 L360.5 599.7 L362.5 598.6 L364.5 597.4 L366.5 596.1 L368.5 594.8 L370.5 593.4 L372.5 591.9 L374.5 590.4 L376.5 588.7 L378.5 587.1 L380.5 585.3 L382.5 583.5 L384.5 581.7 L386.5 579.8 L388.5 577.9 L390.5 575.9 L392.5 573.9 L394.5 571.9 L396.5 569.8 L398.5 567.8 L400.5 565.7 L402.5 563.7 L404.5 561.6 L406.5 559.6 L408.5 557.6 L410.5 555.6 L412.5 553.6 L414.5 551.7 L416.5 549.8 L418.5 548.0 L420.5 546.2 L422.5 544.5 L424.5 542.8 L426.5 541.3 L428.5 539.8 L430.5 538.5 L432.5 537.3 L434.5 536.2 L436.5 535.2 L438.5 534.3 L440.5 533.5 L442.5 532.8 L444.5 532.1 L446.5 531.6 L448.5 531.1 L450.5 530.6 L452.5 530.3 L454.5 530.0 L456.5 529.7 L458.5 529.6 L460.5 529.5 L462.5 529.5 L464.5 529.5 L466.5 529.6 L468.5 529.7 L470.5 529.9 L472.5 530.2 L474.5 530.4 L476.5 530.7 L478.5 531.1 L480.5 531.4 L482.5 531.7 L484.5 532.1 L486.5 532.4 L488.5 532.8 L490.5 533.1 L492.5 533.3 L494.5 533.6 L496.5 533.8 L498.5 534.0 L500.5 534.1 L502.5 534.2 L504.5 534.3 L506.5 534.2 L508.5 534.2 L510.5 534.0 L512.5 533.8 L514.5 533.5 L516.5 533.2 L518.5 532.8 L520.5 532.2 L522.5 531.6 L524.5 531.0 L526.5 530.2 L528.5 529.4 L530.5 528.5 L532.5 527.6 L534.5 526.6 L536.5 525.5 L538.5 524.3 L540.5 523.1 L542.5 521.7 L544.5 520.3 L546.5 518.8 L548.5 517.2 L550.5 515.6 L552.5 513.9 L554.5 512.2 L556.5 510.5 L558.5 508.8 L560.5 507.2 L562.5 505.5 L564.5 504.0 L566.5 502.4 L568.5 500.9 L570.5 499.4 L572.5 498.0 L574.5 496.5 L576.5 495.1 L578.5 493.8 L580.5 492.5 L582.5 491.2 L584.5 490.0 L586.5 488.9 L588.5 487.9 L590.5 487.1 L592.5 486.3 L594.5 485.7 L596.5 485.2 L598.5 484.8 L600.5 484.5 L602.5 484.3 L604.5 484.2 L606.5 484.2 L608.5 484.4 L610.5 484.8 L612.5 485.3 L614.5 486.0 L616.5 486.8 L618.5 487.9 L620.5 489.1 L622.5 490.5 L624.5 492.0 L626.5 493.8 L628.5 495.7 L630.5 497.7 L632.5 500.0 L634.5 502.4 L636.5 504.9 L638.5 507.6 L640.5 510.5 L642.5 513.6 L644.5 516.8 L646.5 520.2 L648.5 523.7 L650.5 527.4 L652.5 531.2 L654.5 535.1 L656.5 538.9 L658.5 542.8 L660.5 546.6 L662.5 550.5 L664.5 554.3 L666.5 558.2 L668.5 562.1 L670.5 566.1 L672.5 570.1 L674.5 574.2 L676.5 578.3 L678.5 582.5 L680.5 586.7 L682.5 590.9 L684.5 595.2 L686.5 599.4 L688.5 603.6 L690.5 607.9 L692.5 612.1 L694.5 616.3 L696.5 620.4 L698.5 624.6 L700.5 628.7 L702.5 632.8 L704.5 636.8 L706.5 640.8 L708.5 644.6 L710.5 648.4 L712.5 652.1 L714.5 655.7 L716.5 659.1 L718.5 662.4 L720.5 665.6 L722.5 668.7 L724.5 671.6 L726.5 674.5 L728.5 677.1 L730.5 679.7 L732.5 682.1 L734.5 684.5 L736.5 686.7 L738.5 688.8 L740.5 690.9 L742.5 692.8 L744.5 694.5 L746.5 696.2 L748.5 697.7 L750.5 699.0 L752.5 700.2 L754.5 701.3 L756.5 702.3 L758.5 703.2 L760.5 704.0 L762.5 704.8 L764.5 705.4 L766.5 706.0 L768.5 706.4 L770.5 706.7 L772.5 706.9 L774.5 706.9 L776.5 706.7 L778.5 706.5 L780.5 706.2 L782.5 705.8 L784.5 705.3 L786.5 704.7 L788.5 704.1 L790.5 703.3 L792.5 702.5 L794.5 701.6 L796.5 700.6 L798.5 699.5 L800.5 698.4 L802.5 697.3 L804.5 696.1 L806.5 694.8 L808.5 693.5 L810.5 692.2 L812.5 690.9 L814.5 689.6 L816.5 688.2 L818.5 686.8 L820.5 685.4 L822.5 684.0 L824.5 682.6 L826.5 681.2 L828.5 679.8 L830.5 678.4 L832.5 677.0 L834.5 675.6 L836.5 674.2 L838.5 672.8 L840.5 671.4 L842.5 670.0 L844.5 668.6 L846.5 667.3 L848.5 666.0 L850.5 664.7 L852.5 663.5 L854.5 662.3 L856.5 661.2 L858.5 660.1 L860.5 659.0 L862.5 658.1 L864.5 657.1 L866.5 656.2 L868.5 655.3 L870.5 654.5 L872.5 653.7 L874.5 652.9 L876.5 652.2 L878.5 651.5 L880.5 650.9 L882.5 650.3 L884.5 649.8 L886.5 649.3 L888.5 648.8 L890.5 648.4 L892.5 648.0 L894.5 647.6 L896.5 647.3 L898.5 647.0 L900.5 646.7 L902.5 646.4 L904.5 646.1 L906.5 645.8 L908.5 645.4 L910.5 645.1 L912.5 644.8 L914.5 644.4 L916.5 644.0 L918.5 643.6 L920.5 643.1 L922.5 642.6 L924.5 642.1 L926.5 641.6 L928.5 641.0 L930.5 640.3 L932.5 639.6 L934.5 638.9 L936.5 638.1 L938.5 637.3 L940.5 636.4 L942.5 635.5 L944.5 634.6 L946.5 633.7 L948.5 632.7 L950.5 631.6 L952.5 630.5 L954.5 629.3 L956.5 628.0 L958.5 626.6 L960.5 625.2 L962.5 623.7 L964.5 622.1 L966.5 620.4 L968.5 618.6 L970.5 616.8 L972.5 614.8 L974.5 612.8 L976.5 610.8 L978.5 608.6 L980.5 606.4 L982.5 604.2 L984.5 601.8 L986.5 599.5 L988.5 597.0 L990.5 594.5 L992.5 591.9 L994.5 589.3 L996.5 586.7 L998.5 584.0 L1000.5 581.4 L1002.5 578.8 L1004.5 576.2 L1006.5 573.7 L1008.5 571.3 L1010.5 568.9 L1012.5 566.7 L1014.5 564.5 L1016.5 562.3 L1018.5 560.2 L1020.5 558.2 L1022.5 556.2 L1024.5 554.3 L1026.5 552.5 L1028.5 550.8 L1030.5 549.1 L1032.5 547.6 L1034.5 546.1 L1036.5 544.7 L1038.5 543.5 L1040.5 542.3 L1042.5 541.3 L1044.5 540.3 L1046.5 539.5 L1048.5 538.7 L1050.5 538.0 L1052.5 537.4 L1054.5 536.9 L1056.5 536.4 L1058.5 536.0 L1060.5 535.6 L1062.5 535.3 L1064.5 535.0 L1066.5 534.8 L1068.5 534.6 L1070.5 534.5 L1072.5 534.3 L1074.5 534.2 L1076.5 534.1 L1078.5 534.1 L1080.5 534.0 L1082.5 533.9 L1084.5 533.8 L1086.5 533.6 L1088.5 533.5 L1090.5 533.3 L1092.5 533.1 L1094.5 532.9 L1096.5 532.6 L1098.5 532.3 L1100.5 531.9 L1102.5 531.5 L1104.5 531.1 L1106.5 530.6 L1108.5 530.0 L1110.5 529.4 L1112.5 528.7 L1114.5 528.0 L1116.5 527.2 L1118.5 526.3 L1120.5 525.3 L1122.5 524.3 L1124.5 523.3 L1126.5 522.2 L1128.5 521.0 L1130.5 519.7 L1132.5 518.5 L1134.5 517.1 L1136.5 515.7 L1138.5 514.3 L1140.5 512.8 L1142.5 511.2 L1144.5 509.6 L1146.5 508.0 L1148.5 506.3 L1150.5 504.6 L1152.5 502.8 L1154.5 501.0 L1156.5 499.2 L1158.5 497.4 L1160.5 495.6 L1162.5 493.7 L1164.5 491.9 L1166.5 490.0 L1168.5 488.2 L1170.5 486.4 L1172.5 484.7 L1174.5 483.0 L1176.5 481.3 L1178.5 479.8 L1180.5 478.3 L1182.5 476.9 L1184.5 475.6 L1186.5 474.3 L1188.5 473.1 L1190.5 471.9 L1192.5 470.9 L1194.5 469.9 L1196.5 469.1 L1198.5 468.5 L1200.5 468.0 L1202.5 467.7 L1204.5 467.6 L1206.5 467.6 L1208.5 467.9 L1210.5 468.3 L1212.5 469.0 L1214.5 469.7 L1216.5 470.7 L1218.5 471.8 L1220.5 473.1 L1222.5 474.5 L1224.5 476.1 L1226.5 477.8 L1228.5 479.8 L1230.5 481.8 L1232.5 484.1 L1234.5 486.5 L1236.5 489.0 L1238.5 491.6 L1240.5 494.4 L1242.5 497.3 L1244.5 500.4 L1246.5 503.5 L1248.5 506.8 L1250.5 510.2 L1252.5 513.8 L1254.5 517.5 L1256.5 521.3 L1258.5 525.3 L1260.5 529.3 L1262.5 533.5 L1264.5 537.7 L1266.5 542.0 L1268.5 546.3 L1270.5 550.7 L1272.5 555.1 L1274.5 559.6 L1276.5 564.0 L1278.5 568.4 L1280.5 572.8 L1282.5 577.1 L1284.5 581.5 L1286.5 585.8 L1288.5 590.1 L1290.5 594.3 L1292.5 598.6 L1294.5 602.8 L1296.5 606.9 L1298.5 610.9 L1300.5 614.9 L1302.5 618.7 L1304.5 622.4 L1306.5 626.1 L1308.5 629.7 L1310.5 633.2 L1312.5 636.6 L1314.5 640.0 L1316.5 643.3 L1318.5 646.4 L1320.5 649.5 L1322.5 652.5 L1324.5 655.3 L1326.5 658.0 L1328.5 660.5 L1330.5 662.9 L1332.5 665.1 L1334.5 667.2 L1336.5 669.1 L1338.5 670.8 L1340.5 672.4 L1342.5 673.8 L1344.5 675.1 L1346.5 676.2 L1348.5 677.3 L1350.5 678.3 L1352.5 679.2 L1354.5 680.0 L1356.5 680.7 L1358.5 681.4 L1360.5 681.9 L1362.5 682.4 L1364.5 682.7 L1366.5 683.0 L1368.5 683.2 L1370.5 683.3 L1372.5 683.3 L1374.5 683.2 L1376.5 683.1 L1378.5 682.9 L1380.5 682.5 L1382.5 682.1 L1384.5 681.7 L1386.5 681.1 L1388.5 680.4 L1390.5 679.7 L1392.5 678.9 L1394.5 678.0 L1396.5 677.0 L1398.5 676.0 L1400.5 674.8 L1402.5 673.7 L1404.5 672.4 L1406.5 671.2 L1408.5 669.9 L1410.5 668.5 L1412.5 667.2 L1414.5 665.8 L1416.5 664.5 L1418.5 663.1 L1420.5 661.7 L1422.5 660.3 L1424.5 658.9 L1426.5 657.5 L1428.5 656.1 L1430.5 654.7 L1432.5 653.3 L1434.5 651.9 L1436.5 650.6 L1438.5 649.3 L1440.5 648.0 L1442.5 646.8 L1444.5 645.7 L1446.5 644.6 L1448.5 643.5 L1450.5 642.6 L1452.5 641.7 L1454.5 640.9 L1456.5 640.1 L1458.5 639.4 L1460.5 638.7 L1462.5 638.1 L1464.5 637.5 L1466.5 637.0 L1468.5 636.5 L1470.5 636.0 L1472.5 635.6 L1474.5 635.2 L1476.5 634.8 L1478.5 634.4 L1480.5 634.1 L1482.5 633.8 L1484.5 633.5 L1486.5 633.2 L1488.5 632.9 L1490.5 632.7 L1492.5 632.4 L1494.5 632.2 L1496.5 632.0 L1498.5 631.7 L1500.5 631.5 L1502.5 631.3 L1504.5 631.1 L1506.5 630.9 L1508.5 630.7 L1510.5 630.4 L1512.5 630.2 L1514.5 630.0 L1516.5 629.7 L1518.5 629.4 L1520.5 629.1 L1522.5 628.8 L1524.5 628.5 L1526.5 628.1 L1528.5 627.7 L1530.5 627.2 L1532.5 626.6 L1534.5 626.0 L1536.5 625.4 L1538.5 624.6 L1540.5 623.8 L1542.5 622.9 L1544.5 621.9 L1546.5 620.8 L1548.5 619.6 L1550.5 618.3 L1552.5 617.0 L1554.5 615.5 L1556.5 614.0 L1558.5 612.4 L1560.5 610.8 L1562.5 609.2 L1564.5 607.6 L1566.5 605.9 L1568.5 604.2 L1570.5 602.5 L1572.5 600.8 L1574.5 599.1 L1576.5 597.3 L1578.5 595.5 L1580.5 593.6 L1582.5 591.7 L1584.5 589.8 L1586.5 588.0 L1588.5 586.1 L1590.5 584.1 L1592.5 582.1 L1594.5 580.0 L1596.5 577.7 L1598.5 575.4 L1600.5 573.1 L1602.5 570.7 L1604.5 568.3 L1605.2 567.5" stroke="#008000" stroke-width="4.20"/>
</g>
<path d="M270.0 735 v9.3 M420.5 735 v9.3 M568.0 735 v9.3 M717.0 735 v9.3 M867.5 735 v9.3 M1018.0 735 v9.3 M1165.0 735 v9.3 M1314.0 735 v9.3 M1464.5 735 v9.3 M1615.5 735 v9.3 M126 489.5 h-9.3 M126 578.0 h-9.3 M126 666.5 h-9.3" stroke="#000" stroke-width="2.10" fill="none"/>
<rect x="126" y="455" width="1550" height="280" fill="none" stroke="#000" stroke-width="2.10"/>
<text x="270.0" y="775.9" text-anchor="middle" class="tk">2012-10</text>
<text x="420.5" y="775.9" text-anchor="middle" class="tk">2013-01</text>
<text x="568.0" y="775.9" text-anchor="middle" class="tk">2013-04</text>
<text x="717.0" y="775.9" text-anchor="middle" class="tk">2013-07</text>
<text x="867.5" y="775.9" text-anchor="middle" class="tk">2013-10</text>
<text x="1018.0" y="775.9" text-anchor="middle" class="tk">2014-01</text>
<text x="1165.0" y="775.9" text-anchor="middle" class="tk">2014-04</text>
<text x="1314.0" y="775.9" text-anchor="middle" class="tk">2014-07</text>
<text x="1464.5" y="775.9" text-anchor="middle" class="tk">2014-10</text>
<text x="1615.5" y="775.9" text-anchor="middle" class="tk">2015-01</text>
<text x="106.4" y="499.9" text-anchor="end" class="tk">50</text>
<text x="106.4" y="588.4" text-anchor="end" class="tk">0</text>
<text x="106.4" y="676.9" text-anchor="end" class="tk">−50</text>
<rect x="1287.3" y="466.3" width="377.6" height="169.7" rx="3.6" ry="3.6" fill="#fff" fill-opacity="0.8" stroke="#ccc" stroke-opacity="0.8" stroke-width="2.4"/>
<path d="M1296.3 484.0 H1341.1" stroke="#000000" stroke-width="8.40" stroke-linecap="square"/>
<text x="1358.3" y="492.1" class="lg">NOAA obs</text>
<path d="M1296.3 516.6 H1341.1" stroke="#ff8c00" stroke-width="4.20" stroke-linecap="square"/>
<text x="1358.3" y="524.7" class="lg">Mechanistic (Oxic)</text>
<path d="M1296.3 549.2 H1341.1" stroke="#0000ff" stroke-width="4.20" stroke-linecap="square"/>
<text x="1358.3" y="557.3" class="lg">Empirical (Oxic)</text>
<path d="M1296.3 581.8 H1341.1" stroke="#ff0000" stroke-width="4.20" stroke-linecap="square"/>
<text x="1358.3" y="589.9" class="lg">Mechanistic (Oxic+Anoxic)</text>
<path d="M1296.3 614.4 H1341.1" stroke="#008000" stroke-width="4.20" stroke-linecap="square"/>
<text x="1358.3" y="622.5" class="lg">Launois (Oxic+Anoxic)</text>
<text transform="translate(871.4 21.2) scale(1.03 1)" text-anchor="middle" class="tt">ALT</text>
<text transform="translate(871 432.7) scale(1.03 1)" text-anchor="middle" class="tt">HFM</text>
<text x="22.2" y="359.2" class="pl">(a)</text>
<text x="19.9" y="746.4" class="pl">(b)</text>
<text transform="translate(33.0 187) rotate(-90)" text-anchor="middle" class="yl"><tspan class="it">COS</tspan> (ppt)</text>
<text transform="translate(28.1 595) rotate(-90)" text-anchor="middle" class="yl"><tspan class="it">COS</tspan> (ppt)</text>
</svg>
</body></html>
